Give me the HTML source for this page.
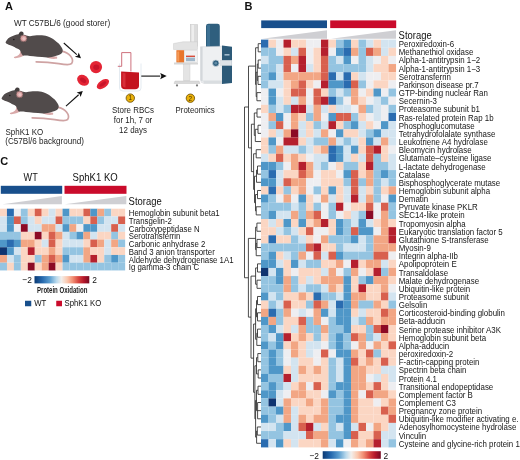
<!DOCTYPE html><html><head><meta charset="utf-8"><style>html,body{margin:0;padding:0;background:#fff;width:520px;height:460px;overflow:hidden}svg{display:block;filter:blur(0.45px)}</style></head><body>
<svg width="520" height="460" viewBox="0 0 520 460">
<defs><linearGradient id="cb" x1="0" x2="1" y1="0" y2="0"><stop offset="0" stop-color="#0b3a74"/><stop offset="0.14" stop-color="#2568ad"/><stop offset="0.28" stop-color="#5d9fd0"/><stop offset="0.4" stop-color="#b9d9ec"/><stop offset="0.49" stop-color="#f2efec"/><stop offset="0.6" stop-color="#fbc7ad"/><stop offset="0.7" stop-color="#f18d72"/><stop offset="0.8" stop-color="#d84740"/><stop offset="0.9" stop-color="#b5172b"/><stop offset="1" stop-color="#760a22"/></linearGradient></defs>
<rect width="520" height="460" fill="#fff"/>
<text x="0" y="0" transform="translate(5.10,9.80) scale(1.0,1.0)" font-family="Liberation Sans, sans-serif" font-size="11" fill="#111" font-weight="bold">A</text>
<text x="0" y="0" transform="translate(13.90,26.10) scale(1.0,1.1)" font-family="Liberation Sans, sans-serif" font-size="8.23" fill="#1e1e1e">WT C57BL/6 (good storer)</text>
<g transform="translate(0,0)"><path d="M61.5,51.2 C65,52 68.5,53.6 70.5,56 C72.5,58.5 73.2,61.5 71.5,63.7 C69.5,65.5 64,64.6 58.8,63.6 C52,62.5 44,61.8 36.2,61.8" fill="none" stroke="#cfa3a3" stroke-width="1.7" stroke-linecap="round"/><path d="M45.8,56.6 C47.5,58.6 52,59.2 56.5,58.8 C57.5,58.4 57.5,57.2 56.5,56.4 Z" fill="#d9a9a9"/><path d="M20.3,51.5 C20.2,54 18.5,55.8 14.5,56.8 C13.4,57.4 13.8,58.3 15.5,58.2 C19,58 22,57.2 23.6,55.6 C23.2,54 22.5,52.5 21.5,51 Z" fill="#d9a9a9"/><path d="M5.8,41.8 C7,39 9.5,37.2 11.5,36.5 C14,35.3 16.5,34.5 18.5,34.2 C22,33.8 26,35.8 30,36.2 C34,35.5 37,35.2 39.6,35.3 C43,35.4 45,35.7 47.3,36.25 C51,37.5 53,38.8 55,40.6 C58,43 60,44.5 60.8,46.3 C62,48 63,49.5 62.7,50.7 C62.5,52.5 61.8,53.4 60.8,54 C58,55.5 56,56 54,56.4 C51,57 49,57.4 47.3,57.4 C40,57 34,56.5 30,56 C27,55.5 24.5,55.5 23,55.7 C21.5,54 21,52.5 20,50.3 C19,49.5 18.5,49 17.7,48.8 C15,47.5 13.5,46.5 12.3,46 C9.5,45 7.5,44 6.2,43.4 C5.5,43 5.5,42.3 5.8,41.8 Z" fill="#514b4b"/><path d="M18.6,35 C18.6,33 19.6,31.6 21.3,31.4 C22.8,31.3 23.6,32.3 23.6,33.6 L23.2,35.2 Z" fill="#433e3e"/><circle cx="23.6" cy="38.4" r="3.4" fill="#d8a0a0" stroke="#6a5050" stroke-width="0.7"/><circle cx="23.9" cy="38.6" r="1.6" fill="#e9c1c1"/><circle cx="13.8" cy="39.5" r="0.75" fill="#1a1818"/></g>
<g transform="translate(-4,56)"><path d="M61.5,51.2 C65,52 68.5,53.6 70.5,56 C72.5,58.5 73.2,61.5 71.5,63.7 C69.5,65.5 64,64.6 58.8,63.6 C52,62.5 44,61.8 36.2,61.8" fill="none" stroke="#cfa3a3" stroke-width="1.7" stroke-linecap="round"/><path d="M45.8,56.6 C47.5,58.6 52,59.2 56.5,58.8 C57.5,58.4 57.5,57.2 56.5,56.4 Z" fill="#d9a9a9"/><path d="M20.3,51.5 C20.2,54 18.5,55.8 14.5,56.8 C13.4,57.4 13.8,58.3 15.5,58.2 C19,58 22,57.2 23.6,55.6 C23.2,54 22.5,52.5 21.5,51 Z" fill="#d9a9a9"/><path d="M5.8,41.8 C7,39 9.5,37.2 11.5,36.5 C14,35.3 16.5,34.5 18.5,34.2 C22,33.8 26,35.8 30,36.2 C34,35.5 37,35.2 39.6,35.3 C43,35.4 45,35.7 47.3,36.25 C51,37.5 53,38.8 55,40.6 C58,43 60,44.5 60.8,46.3 C62,48 63,49.5 62.7,50.7 C62.5,52.5 61.8,53.4 60.8,54 C58,55.5 56,56 54,56.4 C51,57 49,57.4 47.3,57.4 C40,57 34,56.5 30,56 C27,55.5 24.5,55.5 23,55.7 C21.5,54 21,52.5 20,50.3 C19,49.5 18.5,49 17.7,48.8 C15,47.5 13.5,46.5 12.3,46 C9.5,45 7.5,44 6.2,43.4 C5.5,43 5.5,42.3 5.8,41.8 Z" fill="#514b4b"/><path d="M18.6,35 C18.6,33 19.6,31.6 21.3,31.4 C22.8,31.3 23.6,32.3 23.6,33.6 L23.2,35.2 Z" fill="#433e3e"/><circle cx="23.6" cy="38.4" r="3.4" fill="#d8a0a0" stroke="#6a5050" stroke-width="0.7"/><circle cx="23.9" cy="38.6" r="1.6" fill="#e9c1c1"/><circle cx="13.8" cy="39.5" r="0.75" fill="#1a1818"/></g>
<text x="0" y="0" transform="translate(5.50,134.70) scale(1.0,1.1)" font-family="Liberation Sans, sans-serif" font-size="8" fill="#1e1e1e">SphK1 KO</text>
<text x="0" y="0" transform="translate(5.30,143.60) scale(1.0,1.1)" font-family="Liberation Sans, sans-serif" font-size="8.1" fill="#1e1e1e">(C57Bl/6 background)</text>
<line x1="63.8" y1="43" x2="76.82" y2="54.58" stroke="#111" stroke-width="1.1"/><path d="M81,58.3 L74.89,56.74 L77.71,55.38 L78.74,52.41 Z" fill="#111"/>
<line x1="66" y1="106.2" x2="78.65" y2="94.76" stroke="#111" stroke-width="1.1"/><path d="M82.8,91 L80.59,96.91 L79.54,93.95 L76.70,92.61 Z" fill="#111"/>
<circle cx="96" cy="67.1" r="6.1" fill="#e42535"/><ellipse cx="96.3" cy="67.3" rx="3" ry="2.7" fill="#c8142a"/>
<g transform="translate(83.1,80.3) rotate(35)"><ellipse rx="6.4" ry="5" fill="#e42535"/><ellipse rx="3.4" ry="2.2" fill="#c8142a"/></g>
<g transform="translate(102.9,84.1) rotate(-35)"><ellipse rx="7" ry="3.9" fill="#e42535"/><ellipse rx="4" ry="1.6" fill="#c8142a"/></g>
<path d="M119.5,63.5 L119.5,88 Q119.5,91 123,91 L138,91 Q141,91 141,88 L141,63.5" fill="none" stroke="#dde6ee" stroke-width="0.8"/>
<path d="M117.8,66.3 L121.7,66.3 L121.7,52.6 L130.9,52.6 L130.9,71.5" fill="none" stroke="#c8616e" stroke-width="0.9"/>
<path d="M121.1,71.5 L139,72.6 L139,85.5 Q139,89.3 135,89.3 L125,89.3 Q121.1,89.3 121.1,85.5 Z" fill="#c4141f"/>
<path d="M122.5,73 L125.5,73.2 L125.5,87.5 Q122.5,87 122.5,85 Z" fill="#e4424c" opacity="0.6"/>
<line x1="141.3" y1="76.1" x2="160.20" y2="76.10" stroke="#111" stroke-width="1.1"/><path d="M166.7,76.1 L160.20,79.30 L161.40,76.10 L160.20,72.90 Z" fill="#111"/>
<circle cx="130.3" cy="98.1" r="4.2" fill="#e9b10a" stroke="#6a4a00" stroke-width="0.8"/><text x="130.3" y="100.39999999999999" font-family="Liberation Sans, sans-serif" font-size="6.4" text-anchor="middle" fill="#4a3300">1</text>
<circle cx="190.4" cy="98.2" r="4.2" fill="#e9b10a" stroke="#6a4a00" stroke-width="0.8"/><text x="190.4" y="100.5" font-family="Liberation Sans, sans-serif" font-size="6.4" text-anchor="middle" fill="#4a3300">2</text>
<text x="0" y="0" transform="translate(133.00,113.10) scale(1.0,1.1)" font-family="Liberation Sans, sans-serif" font-size="7.97" fill="#1e1e1e" text-anchor="middle">Store RBCs</text>
<text x="0" y="0" transform="translate(133.00,122.90) scale(1.0,1.1)" font-family="Liberation Sans, sans-serif" font-size="7.97" fill="#1e1e1e" text-anchor="middle">for 1h, 7 or</text>
<text x="0" y="0" transform="translate(133.00,132.60) scale(1.0,1.1)" font-family="Liberation Sans, sans-serif" font-size="7.97" fill="#1e1e1e" text-anchor="middle">12 days</text>
<text x="0" y="0" transform="translate(175.60,112.80) scale(1.0,1.1)" font-family="Liberation Sans, sans-serif" font-size="7.84" fill="#1e1e1e">Proteomics</text>
<rect x="190.2" y="24.5" width="7.5" height="22" fill="#dcdcdc" stroke="#bfbfbf" stroke-width="0.4"/><rect x="191.5" y="25" width="2.5" height="21" fill="#eeeeee"/><path d="M173.5,43.5 L183,41.8 L197.5,41.8 L197.5,49.5 L173.5,49.5 Z" fill="#e3e3e3" stroke="#c4c4c4" stroke-width="0.4"/><rect x="176.4" y="50.2" width="7.8" height="12.5" fill="#e8762c"/><rect x="177.2" y="51.5" width="2" height="10" fill="#f49a56"/><rect x="184.2" y="50.2" width="13.5" height="12" fill="#f2f2f2" stroke="#cfcfcf" stroke-width="0.4"/><rect x="186" y="55.6" width="9" height="1.4" fill="#d84c3a"/><rect x="186" y="57.6" width="9" height="3.6" fill="#9fb6c9"/><rect x="174" y="62.5" width="24" height="2" fill="#d6d6d6"/><rect x="183.5" y="64.2" width="6.5" height="16.5" fill="#e4e4e4" stroke="#c8c8c8" stroke-width="0.4"/><path d="M175,81 L199,81 L200,83.5 L174,83.5 Z" fill="#dadada" stroke="#bdbdbd" stroke-width="0.4"/><circle cx="177" cy="85.4" r="1.1" fill="#7d7d7d"/><circle cx="197" cy="85.4" r="1.1" fill="#7d7d7d"/><path d="M206,26 Q206,23.8 208.5,23.8 L217.5,23.8 Q219.8,23.8 219.8,26 L219.8,47 L206,47 Z" fill="#2f5f7e"/><rect x="207" y="25" width="3" height="21" fill="#3d7193"/><path d="M200.5,46.8 L222.3,46.2 L222.3,83.5 L204,83.5 Q200.5,83 200.5,80 Z" fill="#eef0f2" stroke="#c9cdd1" stroke-width="0.4"/><path d="M200.5,46.8 L202.6,46.8 L202.6,81.5 Q201,81 200.5,80 Z" fill="#d3d7db"/><path d="M203,80.6 L222.3,80.6 L222.3,83.5 L204,83.5 Z" fill="#d9dde0"/><path d="M222,45.5 L232,46.8 L232,83 L222,84 Z" fill="#2d5a78"/><rect x="224.5" y="54" width="5" height="1.6" fill="#9fb9cc"/><rect x="220.5" y="60.2" width="11.4" height="5.4" fill="#dfe4e8" stroke="#c9cfd4" stroke-width="0.3"/><circle cx="215.8" cy="63.2" r="3.3" fill="#2f5f7e" stroke="#cfd8de" stroke-width="0.8"/><circle cx="215.8" cy="63.2" r="1.4" fill="#5f8aa5"/>
<text x="0" y="0" transform="translate(244.50,9.80) scale(1.0,1.0)" font-family="Liberation Sans, sans-serif" font-size="11" fill="#111" font-weight="bold">B</text>
<rect x="261.2" y="20.4" width="65.8" height="7.7" fill="#184f8c"/>
<rect x="330.2" y="20.4" width="66" height="7.7" fill="#ca0b2b"/>
<path d="M262,38.7 L327,30.2 L327,38.7 Z" fill="#cfcfd3"/>
<path d="M331,38.7 L396,30.2 L396,38.7 Z" fill="#cfcfd3"/>
<text x="0" y="0" transform="translate(398.60,38.80) scale(1.0,1.1)" font-family="Liberation Sans, sans-serif" font-size="9.45" fill="#111">Storage</text>
<rect x="261.00" y="39.60" width="7.55" height="8.21" fill="#2a6cb0"/>
<rect x="268.50" y="39.60" width="7.55" height="8.21" fill="#fbd6c3"/>
<rect x="276.00" y="39.60" width="7.55" height="8.21" fill="#eeeef1"/>
<rect x="283.50" y="39.60" width="7.55" height="8.21" fill="#b5202e"/>
<rect x="291.00" y="39.60" width="7.55" height="8.21" fill="#fbd6c3"/>
<rect x="298.50" y="39.60" width="7.55" height="8.21" fill="#fbd6c3"/>
<rect x="306.00" y="39.60" width="7.55" height="8.21" fill="#eeeef1"/>
<rect x="313.50" y="39.60" width="7.55" height="8.21" fill="#eeeef1"/>
<rect x="321.00" y="39.60" width="7.55" height="8.21" fill="#b5202e"/>
<rect x="328.50" y="39.60" width="7.55" height="8.21" fill="#fbd6c3"/>
<rect x="336.00" y="39.60" width="7.55" height="8.21" fill="#94c4e1"/>
<rect x="343.50" y="39.60" width="7.55" height="8.21" fill="#4f97c8"/>
<rect x="351.00" y="39.60" width="7.55" height="8.21" fill="#fbd6c3"/>
<rect x="358.50" y="39.60" width="7.55" height="8.21" fill="#94c4e1"/>
<rect x="366.00" y="39.60" width="7.55" height="8.21" fill="#d3e4f0"/>
<rect x="373.50" y="39.60" width="7.55" height="8.21" fill="#fbd6c3"/>
<rect x="381.00" y="39.60" width="7.55" height="8.21" fill="#d3e4f0"/>
<rect x="388.50" y="39.60" width="7.55" height="8.21" fill="#d3e4f0"/>
<rect x="261.00" y="47.76" width="7.55" height="8.21" fill="#94c4e1"/>
<rect x="268.50" y="47.76" width="7.55" height="8.21" fill="#94c4e1"/>
<rect x="276.00" y="47.76" width="7.55" height="8.21" fill="#eeeef1"/>
<rect x="283.50" y="47.76" width="7.55" height="8.21" fill="#fbd6c3"/>
<rect x="291.00" y="47.76" width="7.55" height="8.21" fill="#d3e4f0"/>
<rect x="298.50" y="47.76" width="7.55" height="8.21" fill="#d8604e"/>
<rect x="306.00" y="47.76" width="7.55" height="8.21" fill="#eeeef1"/>
<rect x="313.50" y="47.76" width="7.55" height="8.21" fill="#fbd6c3"/>
<rect x="321.00" y="47.76" width="7.55" height="8.21" fill="#b5202e"/>
<rect x="328.50" y="47.76" width="7.55" height="8.21" fill="#eeeef1"/>
<rect x="336.00" y="47.76" width="7.55" height="8.21" fill="#4f97c8"/>
<rect x="343.50" y="47.76" width="7.55" height="8.21" fill="#2a6cb0"/>
<rect x="351.00" y="47.76" width="7.55" height="8.21" fill="#f2a684"/>
<rect x="358.50" y="47.76" width="7.55" height="8.21" fill="#94c4e1"/>
<rect x="366.00" y="47.76" width="7.55" height="8.21" fill="#d8604e"/>
<rect x="373.50" y="47.76" width="7.55" height="8.21" fill="#f2a684"/>
<rect x="381.00" y="47.76" width="7.55" height="8.21" fill="#d3e4f0"/>
<rect x="388.50" y="47.76" width="7.55" height="8.21" fill="#fbd6c3"/>
<rect x="261.00" y="55.91" width="7.55" height="8.21" fill="#d3e4f0"/>
<rect x="268.50" y="55.91" width="7.55" height="8.21" fill="#94c4e1"/>
<rect x="276.00" y="55.91" width="7.55" height="8.21" fill="#94c4e1"/>
<rect x="283.50" y="55.91" width="7.55" height="8.21" fill="#d8604e"/>
<rect x="291.00" y="55.91" width="7.55" height="8.21" fill="#f2a684"/>
<rect x="298.50" y="55.91" width="7.55" height="8.21" fill="#b5202e"/>
<rect x="306.00" y="55.91" width="7.55" height="8.21" fill="#eeeef1"/>
<rect x="313.50" y="55.91" width="7.55" height="8.21" fill="#fbd6c3"/>
<rect x="321.00" y="55.91" width="7.55" height="8.21" fill="#d8604e"/>
<rect x="328.50" y="55.91" width="7.55" height="8.21" fill="#94c4e1"/>
<rect x="336.00" y="55.91" width="7.55" height="8.21" fill="#d3e4f0"/>
<rect x="343.50" y="55.91" width="7.55" height="8.21" fill="#4f97c8"/>
<rect x="351.00" y="55.91" width="7.55" height="8.21" fill="#eeeef1"/>
<rect x="358.50" y="55.91" width="7.55" height="8.21" fill="#94c4e1"/>
<rect x="366.00" y="55.91" width="7.55" height="8.21" fill="#d3e4f0"/>
<rect x="373.50" y="55.91" width="7.55" height="8.21" fill="#eeeef1"/>
<rect x="381.00" y="55.91" width="7.55" height="8.21" fill="#fbd6c3"/>
<rect x="388.50" y="55.91" width="7.55" height="8.21" fill="#eeeef1"/>
<rect x="261.00" y="64.06" width="7.55" height="8.21" fill="#94c4e1"/>
<rect x="268.50" y="64.06" width="7.55" height="8.21" fill="#94c4e1"/>
<rect x="276.00" y="64.06" width="7.55" height="8.21" fill="#d3e4f0"/>
<rect x="283.50" y="64.06" width="7.55" height="8.21" fill="#d8604e"/>
<rect x="291.00" y="64.06" width="7.55" height="8.21" fill="#eeeef1"/>
<rect x="298.50" y="64.06" width="7.55" height="8.21" fill="#b5202e"/>
<rect x="306.00" y="64.06" width="7.55" height="8.21" fill="#d3e4f0"/>
<rect x="313.50" y="64.06" width="7.55" height="8.21" fill="#fbd6c3"/>
<rect x="321.00" y="64.06" width="7.55" height="8.21" fill="#d8604e"/>
<rect x="328.50" y="64.06" width="7.55" height="8.21" fill="#94c4e1"/>
<rect x="336.00" y="64.06" width="7.55" height="8.21" fill="#94c4e1"/>
<rect x="343.50" y="64.06" width="7.55" height="8.21" fill="#94c4e1"/>
<rect x="351.00" y="64.06" width="7.55" height="8.21" fill="#94c4e1"/>
<rect x="358.50" y="64.06" width="7.55" height="8.21" fill="#94c4e1"/>
<rect x="366.00" y="64.06" width="7.55" height="8.21" fill="#d3e4f0"/>
<rect x="373.50" y="64.06" width="7.55" height="8.21" fill="#fbd6c3"/>
<rect x="381.00" y="64.06" width="7.55" height="8.21" fill="#fbd6c3"/>
<rect x="388.50" y="64.06" width="7.55" height="8.21" fill="#f2a684"/>
<rect x="261.00" y="72.22" width="7.55" height="8.21" fill="#94c4e1"/>
<rect x="268.50" y="72.22" width="7.55" height="8.21" fill="#4f97c8"/>
<rect x="276.00" y="72.22" width="7.55" height="8.21" fill="#d3e4f0"/>
<rect x="283.50" y="72.22" width="7.55" height="8.21" fill="#f2a684"/>
<rect x="291.00" y="72.22" width="7.55" height="8.21" fill="#f2a684"/>
<rect x="298.50" y="72.22" width="7.55" height="8.21" fill="#f2a684"/>
<rect x="306.00" y="72.22" width="7.55" height="8.21" fill="#f2a684"/>
<rect x="313.50" y="72.22" width="7.55" height="8.21" fill="#f2a684"/>
<rect x="321.00" y="72.22" width="7.55" height="8.21" fill="#d8604e"/>
<rect x="328.50" y="72.22" width="7.55" height="8.21" fill="#2a6cb0"/>
<rect x="336.00" y="72.22" width="7.55" height="8.21" fill="#d3e4f0"/>
<rect x="343.50" y="72.22" width="7.55" height="8.21" fill="#2a6cb0"/>
<rect x="351.00" y="72.22" width="7.55" height="8.21" fill="#fbd6c3"/>
<rect x="358.50" y="72.22" width="7.55" height="8.21" fill="#d3e4f0"/>
<rect x="366.00" y="72.22" width="7.55" height="8.21" fill="#eeeef1"/>
<rect x="373.50" y="72.22" width="7.55" height="8.21" fill="#eeeef1"/>
<rect x="381.00" y="72.22" width="7.55" height="8.21" fill="#fbd6c3"/>
<rect x="388.50" y="72.22" width="7.55" height="8.21" fill="#fbd6c3"/>
<rect x="261.00" y="80.38" width="7.55" height="8.21" fill="#94c4e1"/>
<rect x="268.50" y="80.38" width="7.55" height="8.21" fill="#d3e4f0"/>
<rect x="276.00" y="80.38" width="7.55" height="8.21" fill="#d3e4f0"/>
<rect x="283.50" y="80.38" width="7.55" height="8.21" fill="#fbd6c3"/>
<rect x="291.00" y="80.38" width="7.55" height="8.21" fill="#f2a684"/>
<rect x="298.50" y="80.38" width="7.55" height="8.21" fill="#d8604e"/>
<rect x="306.00" y="80.38" width="7.55" height="8.21" fill="#fbd6c3"/>
<rect x="313.50" y="80.38" width="7.55" height="8.21" fill="#eeeef1"/>
<rect x="321.00" y="80.38" width="7.55" height="8.21" fill="#b5202e"/>
<rect x="328.50" y="80.38" width="7.55" height="8.21" fill="#4f97c8"/>
<rect x="336.00" y="80.38" width="7.55" height="8.21" fill="#4f97c8"/>
<rect x="343.50" y="80.38" width="7.55" height="8.21" fill="#2a6cb0"/>
<rect x="351.00" y="80.38" width="7.55" height="8.21" fill="#d8604e"/>
<rect x="358.50" y="80.38" width="7.55" height="8.21" fill="#94c4e1"/>
<rect x="366.00" y="80.38" width="7.55" height="8.21" fill="#eeeef1"/>
<rect x="373.50" y="80.38" width="7.55" height="8.21" fill="#fbd6c3"/>
<rect x="381.00" y="80.38" width="7.55" height="8.21" fill="#fbd6c3"/>
<rect x="388.50" y="80.38" width="7.55" height="8.21" fill="#eeeef1"/>
<rect x="261.00" y="88.53" width="7.55" height="8.21" fill="#eeeef1"/>
<rect x="268.50" y="88.53" width="7.55" height="8.21" fill="#4f97c8"/>
<rect x="276.00" y="88.53" width="7.55" height="8.21" fill="#eeeef1"/>
<rect x="283.50" y="88.53" width="7.55" height="8.21" fill="#fbd6c3"/>
<rect x="291.00" y="88.53" width="7.55" height="8.21" fill="#d8604e"/>
<rect x="298.50" y="88.53" width="7.55" height="8.21" fill="#d8604e"/>
<rect x="306.00" y="88.53" width="7.55" height="8.21" fill="#eeeef1"/>
<rect x="313.50" y="88.53" width="7.55" height="8.21" fill="#d8604e"/>
<rect x="321.00" y="88.53" width="7.55" height="8.21" fill="#fbd6c3"/>
<rect x="328.50" y="88.53" width="7.55" height="8.21" fill="#94c4e1"/>
<rect x="336.00" y="88.53" width="7.55" height="8.21" fill="#d3e4f0"/>
<rect x="343.50" y="88.53" width="7.55" height="8.21" fill="#94c4e1"/>
<rect x="351.00" y="88.53" width="7.55" height="8.21" fill="#f2a684"/>
<rect x="358.50" y="88.53" width="7.55" height="8.21" fill="#eeeef1"/>
<rect x="366.00" y="88.53" width="7.55" height="8.21" fill="#fbd6c3"/>
<rect x="373.50" y="88.53" width="7.55" height="8.21" fill="#4f97c8"/>
<rect x="381.00" y="88.53" width="7.55" height="8.21" fill="#eeeef1"/>
<rect x="388.50" y="88.53" width="7.55" height="8.21" fill="#94c4e1"/>
<rect x="261.00" y="96.69" width="7.55" height="8.21" fill="#eeeef1"/>
<rect x="268.50" y="96.69" width="7.55" height="8.21" fill="#4f97c8"/>
<rect x="276.00" y="96.69" width="7.55" height="8.21" fill="#d3e4f0"/>
<rect x="283.50" y="96.69" width="7.55" height="8.21" fill="#fbd6c3"/>
<rect x="291.00" y="96.69" width="7.55" height="8.21" fill="#d3e4f0"/>
<rect x="298.50" y="96.69" width="7.55" height="8.21" fill="#f2a684"/>
<rect x="306.00" y="96.69" width="7.55" height="8.21" fill="#eeeef1"/>
<rect x="313.50" y="96.69" width="7.55" height="8.21" fill="#d8604e"/>
<rect x="321.00" y="96.69" width="7.55" height="8.21" fill="#b5202e"/>
<rect x="328.50" y="96.69" width="7.55" height="8.21" fill="#2a6cb0"/>
<rect x="336.00" y="96.69" width="7.55" height="8.21" fill="#94c4e1"/>
<rect x="343.50" y="96.69" width="7.55" height="8.21" fill="#eeeef1"/>
<rect x="351.00" y="96.69" width="7.55" height="8.21" fill="#f2a684"/>
<rect x="358.50" y="96.69" width="7.55" height="8.21" fill="#fbd6c3"/>
<rect x="366.00" y="96.69" width="7.55" height="8.21" fill="#eeeef1"/>
<rect x="373.50" y="96.69" width="7.55" height="8.21" fill="#d3e4f0"/>
<rect x="381.00" y="96.69" width="7.55" height="8.21" fill="#94c4e1"/>
<rect x="388.50" y="96.69" width="7.55" height="8.21" fill="#eeeef1"/>
<rect x="261.00" y="104.84" width="7.55" height="8.21" fill="#fbd6c3"/>
<rect x="268.50" y="104.84" width="7.55" height="8.21" fill="#94c4e1"/>
<rect x="276.00" y="104.84" width="7.55" height="8.21" fill="#d3e4f0"/>
<rect x="283.50" y="104.84" width="7.55" height="8.21" fill="#94c4e1"/>
<rect x="291.00" y="104.84" width="7.55" height="8.21" fill="#b5202e"/>
<rect x="298.50" y="104.84" width="7.55" height="8.21" fill="#b5202e"/>
<rect x="306.00" y="104.84" width="7.55" height="8.21" fill="#d3e4f0"/>
<rect x="313.50" y="104.84" width="7.55" height="8.21" fill="#f2a684"/>
<rect x="321.00" y="104.84" width="7.55" height="8.21" fill="#d3e4f0"/>
<rect x="328.50" y="104.84" width="7.55" height="8.21" fill="#fbd6c3"/>
<rect x="336.00" y="104.84" width="7.55" height="8.21" fill="#d3e4f0"/>
<rect x="343.50" y="104.84" width="7.55" height="8.21" fill="#d3e4f0"/>
<rect x="351.00" y="104.84" width="7.55" height="8.21" fill="#eeeef1"/>
<rect x="358.50" y="104.84" width="7.55" height="8.21" fill="#f2a684"/>
<rect x="366.00" y="104.84" width="7.55" height="8.21" fill="#94c4e1"/>
<rect x="373.50" y="104.84" width="7.55" height="8.21" fill="#d3e4f0"/>
<rect x="381.00" y="104.84" width="7.55" height="8.21" fill="#eeeef1"/>
<rect x="388.50" y="104.84" width="7.55" height="8.21" fill="#94c4e1"/>
<rect x="261.00" y="113.00" width="7.55" height="8.21" fill="#eeeef1"/>
<rect x="268.50" y="113.00" width="7.55" height="8.21" fill="#f2a684"/>
<rect x="276.00" y="113.00" width="7.55" height="8.21" fill="#4f97c8"/>
<rect x="283.50" y="113.00" width="7.55" height="8.21" fill="#eeeef1"/>
<rect x="291.00" y="113.00" width="7.55" height="8.21" fill="#f2a684"/>
<rect x="298.50" y="113.00" width="7.55" height="8.21" fill="#fbd6c3"/>
<rect x="306.00" y="113.00" width="7.55" height="8.21" fill="#94c4e1"/>
<rect x="313.50" y="113.00" width="7.55" height="8.21" fill="#f2a684"/>
<rect x="321.00" y="113.00" width="7.55" height="8.21" fill="#eeeef1"/>
<rect x="328.50" y="113.00" width="7.55" height="8.21" fill="#4f97c8"/>
<rect x="336.00" y="113.00" width="7.55" height="8.21" fill="#d8604e"/>
<rect x="343.50" y="113.00" width="7.55" height="8.21" fill="#d8604e"/>
<rect x="351.00" y="113.00" width="7.55" height="8.21" fill="#94c4e1"/>
<rect x="358.50" y="113.00" width="7.55" height="8.21" fill="#fbd6c3"/>
<rect x="366.00" y="113.00" width="7.55" height="8.21" fill="#eeeef1"/>
<rect x="373.50" y="113.00" width="7.55" height="8.21" fill="#d3e4f0"/>
<rect x="381.00" y="113.00" width="7.55" height="8.21" fill="#eeeef1"/>
<rect x="388.50" y="113.00" width="7.55" height="8.21" fill="#2a6cb0"/>
<rect x="261.00" y="121.15" width="7.55" height="8.21" fill="#eeeef1"/>
<rect x="268.50" y="121.15" width="7.55" height="8.21" fill="#94c4e1"/>
<rect x="276.00" y="121.15" width="7.55" height="8.21" fill="#d8604e"/>
<rect x="283.50" y="121.15" width="7.55" height="8.21" fill="#eeeef1"/>
<rect x="291.00" y="121.15" width="7.55" height="8.21" fill="#f2a684"/>
<rect x="298.50" y="121.15" width="7.55" height="8.21" fill="#d3e4f0"/>
<rect x="306.00" y="121.15" width="7.55" height="8.21" fill="#fbd6c3"/>
<rect x="313.50" y="121.15" width="7.55" height="8.21" fill="#94c4e1"/>
<rect x="321.00" y="121.15" width="7.55" height="8.21" fill="#d3e4f0"/>
<rect x="328.50" y="121.15" width="7.55" height="8.21" fill="#b5202e"/>
<rect x="336.00" y="121.15" width="7.55" height="8.21" fill="#fbd6c3"/>
<rect x="343.50" y="121.15" width="7.55" height="8.21" fill="#94c4e1"/>
<rect x="351.00" y="121.15" width="7.55" height="8.21" fill="#4f97c8"/>
<rect x="358.50" y="121.15" width="7.55" height="8.21" fill="#d3e4f0"/>
<rect x="366.00" y="121.15" width="7.55" height="8.21" fill="#fbd6c3"/>
<rect x="373.50" y="121.15" width="7.55" height="8.21" fill="#eeeef1"/>
<rect x="381.00" y="121.15" width="7.55" height="8.21" fill="#4f97c8"/>
<rect x="388.50" y="121.15" width="7.55" height="8.21" fill="#d3e4f0"/>
<rect x="261.00" y="129.31" width="7.55" height="8.21" fill="#eeeef1"/>
<rect x="268.50" y="129.31" width="7.55" height="8.21" fill="#fbd6c3"/>
<rect x="276.00" y="129.31" width="7.55" height="8.21" fill="#d3e4f0"/>
<rect x="283.50" y="129.31" width="7.55" height="8.21" fill="#f2a684"/>
<rect x="291.00" y="129.31" width="7.55" height="8.21" fill="#8c0a25"/>
<rect x="298.50" y="129.31" width="7.55" height="8.21" fill="#d3e4f0"/>
<rect x="306.00" y="129.31" width="7.55" height="8.21" fill="#fbd6c3"/>
<rect x="313.50" y="129.31" width="7.55" height="8.21" fill="#d3e4f0"/>
<rect x="321.00" y="129.31" width="7.55" height="8.21" fill="#f2a684"/>
<rect x="328.50" y="129.31" width="7.55" height="8.21" fill="#eeeef1"/>
<rect x="336.00" y="129.31" width="7.55" height="8.21" fill="#4f97c8"/>
<rect x="343.50" y="129.31" width="7.55" height="8.21" fill="#fbd6c3"/>
<rect x="351.00" y="129.31" width="7.55" height="8.21" fill="#fbd6c3"/>
<rect x="358.50" y="129.31" width="7.55" height="8.21" fill="#d3e4f0"/>
<rect x="366.00" y="129.31" width="7.55" height="8.21" fill="#94c4e1"/>
<rect x="373.50" y="129.31" width="7.55" height="8.21" fill="#4f97c8"/>
<rect x="381.00" y="129.31" width="7.55" height="8.21" fill="#d3e4f0"/>
<rect x="388.50" y="129.31" width="7.55" height="8.21" fill="#d3e4f0"/>
<rect x="261.00" y="137.46" width="7.55" height="8.21" fill="#fbd6c3"/>
<rect x="268.50" y="137.46" width="7.55" height="8.21" fill="#4f97c8"/>
<rect x="276.00" y="137.46" width="7.55" height="8.21" fill="#eeeef1"/>
<rect x="283.50" y="137.46" width="7.55" height="8.21" fill="#b5202e"/>
<rect x="291.00" y="137.46" width="7.55" height="8.21" fill="#b5202e"/>
<rect x="298.50" y="137.46" width="7.55" height="8.21" fill="#fbd6c3"/>
<rect x="306.00" y="137.46" width="7.55" height="8.21" fill="#d3e4f0"/>
<rect x="313.50" y="137.46" width="7.55" height="8.21" fill="#94c4e1"/>
<rect x="321.00" y="137.46" width="7.55" height="8.21" fill="#94c4e1"/>
<rect x="328.50" y="137.46" width="7.55" height="8.21" fill="#f2a684"/>
<rect x="336.00" y="137.46" width="7.55" height="8.21" fill="#d3e4f0"/>
<rect x="343.50" y="137.46" width="7.55" height="8.21" fill="#94c4e1"/>
<rect x="351.00" y="137.46" width="7.55" height="8.21" fill="#d3e4f0"/>
<rect x="358.50" y="137.46" width="7.55" height="8.21" fill="#fbd6c3"/>
<rect x="366.00" y="137.46" width="7.55" height="8.21" fill="#4f97c8"/>
<rect x="373.50" y="137.46" width="7.55" height="8.21" fill="#d3e4f0"/>
<rect x="381.00" y="137.46" width="7.55" height="8.21" fill="#f2a684"/>
<rect x="388.50" y="137.46" width="7.55" height="8.21" fill="#d3e4f0"/>
<rect x="261.00" y="145.61" width="7.55" height="8.21" fill="#fbd6c3"/>
<rect x="268.50" y="145.61" width="7.55" height="8.21" fill="#94c4e1"/>
<rect x="276.00" y="145.61" width="7.55" height="8.21" fill="#f2a684"/>
<rect x="283.50" y="145.61" width="7.55" height="8.21" fill="#d3e4f0"/>
<rect x="291.00" y="145.61" width="7.55" height="8.21" fill="#d3e4f0"/>
<rect x="298.50" y="145.61" width="7.55" height="8.21" fill="#94c4e1"/>
<rect x="306.00" y="145.61" width="7.55" height="8.21" fill="#d3e4f0"/>
<rect x="313.50" y="145.61" width="7.55" height="8.21" fill="#fbd6c3"/>
<rect x="321.00" y="145.61" width="7.55" height="8.21" fill="#f2a684"/>
<rect x="328.50" y="145.61" width="7.55" height="8.21" fill="#2a6cb0"/>
<rect x="336.00" y="145.61" width="7.55" height="8.21" fill="#4f97c8"/>
<rect x="343.50" y="145.61" width="7.55" height="8.21" fill="#d3e4f0"/>
<rect x="351.00" y="145.61" width="7.55" height="8.21" fill="#4f97c8"/>
<rect x="358.50" y="145.61" width="7.55" height="8.21" fill="#fbd6c3"/>
<rect x="366.00" y="145.61" width="7.55" height="8.21" fill="#d8604e"/>
<rect x="373.50" y="145.61" width="7.55" height="8.21" fill="#b5202e"/>
<rect x="381.00" y="145.61" width="7.55" height="8.21" fill="#fbd6c3"/>
<rect x="388.50" y="145.61" width="7.55" height="8.21" fill="#eeeef1"/>
<rect x="261.00" y="153.77" width="7.55" height="8.21" fill="#d3e4f0"/>
<rect x="268.50" y="153.77" width="7.55" height="8.21" fill="#fbd6c3"/>
<rect x="276.00" y="153.77" width="7.55" height="8.21" fill="#d8604e"/>
<rect x="283.50" y="153.77" width="7.55" height="8.21" fill="#fbd6c3"/>
<rect x="291.00" y="153.77" width="7.55" height="8.21" fill="#f2a684"/>
<rect x="298.50" y="153.77" width="7.55" height="8.21" fill="#fbd6c3"/>
<rect x="306.00" y="153.77" width="7.55" height="8.21" fill="#eeeef1"/>
<rect x="313.50" y="153.77" width="7.55" height="8.21" fill="#d3e4f0"/>
<rect x="321.00" y="153.77" width="7.55" height="8.21" fill="#d3e4f0"/>
<rect x="328.50" y="153.77" width="7.55" height="8.21" fill="#2a6cb0"/>
<rect x="336.00" y="153.77" width="7.55" height="8.21" fill="#4f97c8"/>
<rect x="343.50" y="153.77" width="7.55" height="8.21" fill="#d3e4f0"/>
<rect x="351.00" y="153.77" width="7.55" height="8.21" fill="#fbd6c3"/>
<rect x="358.50" y="153.77" width="7.55" height="8.21" fill="#d3e4f0"/>
<rect x="366.00" y="153.77" width="7.55" height="8.21" fill="#d8604e"/>
<rect x="373.50" y="153.77" width="7.55" height="8.21" fill="#94c4e1"/>
<rect x="381.00" y="153.77" width="7.55" height="8.21" fill="#fbd6c3"/>
<rect x="388.50" y="153.77" width="7.55" height="8.21" fill="#d3e4f0"/>
<rect x="261.00" y="161.92" width="7.55" height="8.21" fill="#4f97c8"/>
<rect x="268.50" y="161.92" width="7.55" height="8.21" fill="#4f97c8"/>
<rect x="276.00" y="161.92" width="7.55" height="8.21" fill="#94c4e1"/>
<rect x="283.50" y="161.92" width="7.55" height="8.21" fill="#eeeef1"/>
<rect x="291.00" y="161.92" width="7.55" height="8.21" fill="#f2a684"/>
<rect x="298.50" y="161.92" width="7.55" height="8.21" fill="#b5202e"/>
<rect x="306.00" y="161.92" width="7.55" height="8.21" fill="#f2a684"/>
<rect x="313.50" y="161.92" width="7.55" height="8.21" fill="#d3e4f0"/>
<rect x="321.00" y="161.92" width="7.55" height="8.21" fill="#94c4e1"/>
<rect x="328.50" y="161.92" width="7.55" height="8.21" fill="#eeeef1"/>
<rect x="336.00" y="161.92" width="7.55" height="8.21" fill="#fbd6c3"/>
<rect x="343.50" y="161.92" width="7.55" height="8.21" fill="#94c4e1"/>
<rect x="351.00" y="161.92" width="7.55" height="8.21" fill="#94c4e1"/>
<rect x="358.50" y="161.92" width="7.55" height="8.21" fill="#fbd6c3"/>
<rect x="366.00" y="161.92" width="7.55" height="8.21" fill="#b5202e"/>
<rect x="373.50" y="161.92" width="7.55" height="8.21" fill="#94c4e1"/>
<rect x="381.00" y="161.92" width="7.55" height="8.21" fill="#94c4e1"/>
<rect x="388.50" y="161.92" width="7.55" height="8.21" fill="#d3e4f0"/>
<rect x="261.00" y="170.08" width="7.55" height="8.21" fill="#94c4e1"/>
<rect x="268.50" y="170.08" width="7.55" height="8.21" fill="#2a6cb0"/>
<rect x="276.00" y="170.08" width="7.55" height="8.21" fill="#d3e4f0"/>
<rect x="283.50" y="170.08" width="7.55" height="8.21" fill="#fbd6c3"/>
<rect x="291.00" y="170.08" width="7.55" height="8.21" fill="#fbd6c3"/>
<rect x="298.50" y="170.08" width="7.55" height="8.21" fill="#d8604e"/>
<rect x="306.00" y="170.08" width="7.55" height="8.21" fill="#f2a684"/>
<rect x="313.50" y="170.08" width="7.55" height="8.21" fill="#eeeef1"/>
<rect x="321.00" y="170.08" width="7.55" height="8.21" fill="#fbd6c3"/>
<rect x="328.50" y="170.08" width="7.55" height="8.21" fill="#fbd6c3"/>
<rect x="336.00" y="170.08" width="7.55" height="8.21" fill="#eeeef1"/>
<rect x="343.50" y="170.08" width="7.55" height="8.21" fill="#4f97c8"/>
<rect x="351.00" y="170.08" width="7.55" height="8.21" fill="#d8604e"/>
<rect x="358.50" y="170.08" width="7.55" height="8.21" fill="#fbd6c3"/>
<rect x="366.00" y="170.08" width="7.55" height="8.21" fill="#f2a684"/>
<rect x="373.50" y="170.08" width="7.55" height="8.21" fill="#94c4e1"/>
<rect x="381.00" y="170.08" width="7.55" height="8.21" fill="#4f97c8"/>
<rect x="388.50" y="170.08" width="7.55" height="8.21" fill="#94c4e1"/>
<rect x="261.00" y="178.23" width="7.55" height="8.21" fill="#4f97c8"/>
<rect x="268.50" y="178.23" width="7.55" height="8.21" fill="#4f97c8"/>
<rect x="276.00" y="178.23" width="7.55" height="8.21" fill="#d3e4f0"/>
<rect x="283.50" y="178.23" width="7.55" height="8.21" fill="#d8604e"/>
<rect x="291.00" y="178.23" width="7.55" height="8.21" fill="#f2a684"/>
<rect x="298.50" y="178.23" width="7.55" height="8.21" fill="#f2a684"/>
<rect x="306.00" y="178.23" width="7.55" height="8.21" fill="#eeeef1"/>
<rect x="313.50" y="178.23" width="7.55" height="8.21" fill="#eeeef1"/>
<rect x="321.00" y="178.23" width="7.55" height="8.21" fill="#fbd6c3"/>
<rect x="328.50" y="178.23" width="7.55" height="8.21" fill="#fbd6c3"/>
<rect x="336.00" y="178.23" width="7.55" height="8.21" fill="#fbd6c3"/>
<rect x="343.50" y="178.23" width="7.55" height="8.21" fill="#94c4e1"/>
<rect x="351.00" y="178.23" width="7.55" height="8.21" fill="#d8604e"/>
<rect x="358.50" y="178.23" width="7.55" height="8.21" fill="#94c4e1"/>
<rect x="366.00" y="178.23" width="7.55" height="8.21" fill="#f2a684"/>
<rect x="373.50" y="178.23" width="7.55" height="8.21" fill="#94c4e1"/>
<rect x="381.00" y="178.23" width="7.55" height="8.21" fill="#d3e4f0"/>
<rect x="388.50" y="178.23" width="7.55" height="8.21" fill="#94c4e1"/>
<rect x="261.00" y="186.39" width="7.55" height="8.21" fill="#fbd6c3"/>
<rect x="268.50" y="186.39" width="7.55" height="8.21" fill="#2a6cb0"/>
<rect x="276.00" y="186.39" width="7.55" height="8.21" fill="#fbd6c3"/>
<rect x="283.50" y="186.39" width="7.55" height="8.21" fill="#94c4e1"/>
<rect x="291.00" y="186.39" width="7.55" height="8.21" fill="#fbd6c3"/>
<rect x="298.50" y="186.39" width="7.55" height="8.21" fill="#f2a684"/>
<rect x="306.00" y="186.39" width="7.55" height="8.21" fill="#eeeef1"/>
<rect x="313.50" y="186.39" width="7.55" height="8.21" fill="#94c4e1"/>
<rect x="321.00" y="186.39" width="7.55" height="8.21" fill="#fbd6c3"/>
<rect x="328.50" y="186.39" width="7.55" height="8.21" fill="#4f97c8"/>
<rect x="336.00" y="186.39" width="7.55" height="8.21" fill="#fbd6c3"/>
<rect x="343.50" y="186.39" width="7.55" height="8.21" fill="#d3e4f0"/>
<rect x="351.00" y="186.39" width="7.55" height="8.21" fill="#d8604e"/>
<rect x="358.50" y="186.39" width="7.55" height="8.21" fill="#d3e4f0"/>
<rect x="366.00" y="186.39" width="7.55" height="8.21" fill="#fbd6c3"/>
<rect x="373.50" y="186.39" width="7.55" height="8.21" fill="#94c4e1"/>
<rect x="381.00" y="186.39" width="7.55" height="8.21" fill="#fbd6c3"/>
<rect x="388.50" y="186.39" width="7.55" height="8.21" fill="#f2a684"/>
<rect x="261.00" y="194.54" width="7.55" height="8.21" fill="#4f97c8"/>
<rect x="268.50" y="194.54" width="7.55" height="8.21" fill="#94c4e1"/>
<rect x="276.00" y="194.54" width="7.55" height="8.21" fill="#eeeef1"/>
<rect x="283.50" y="194.54" width="7.55" height="8.21" fill="#f2a684"/>
<rect x="291.00" y="194.54" width="7.55" height="8.21" fill="#eeeef1"/>
<rect x="298.50" y="194.54" width="7.55" height="8.21" fill="#4f97c8"/>
<rect x="306.00" y="194.54" width="7.55" height="8.21" fill="#fbd6c3"/>
<rect x="313.50" y="194.54" width="7.55" height="8.21" fill="#eeeef1"/>
<rect x="321.00" y="194.54" width="7.55" height="8.21" fill="#f2a684"/>
<rect x="328.50" y="194.54" width="7.55" height="8.21" fill="#d3e4f0"/>
<rect x="336.00" y="194.54" width="7.55" height="8.21" fill="#fbd6c3"/>
<rect x="343.50" y="194.54" width="7.55" height="8.21" fill="#d3e4f0"/>
<rect x="351.00" y="194.54" width="7.55" height="8.21" fill="#b5202e"/>
<rect x="358.50" y="194.54" width="7.55" height="8.21" fill="#d3e4f0"/>
<rect x="366.00" y="194.54" width="7.55" height="8.21" fill="#f2a684"/>
<rect x="373.50" y="194.54" width="7.55" height="8.21" fill="#94c4e1"/>
<rect x="381.00" y="194.54" width="7.55" height="8.21" fill="#eeeef1"/>
<rect x="388.50" y="194.54" width="7.55" height="8.21" fill="#4f97c8"/>
<rect x="261.00" y="202.70" width="7.55" height="8.21" fill="#94c4e1"/>
<rect x="268.50" y="202.70" width="7.55" height="8.21" fill="#94c4e1"/>
<rect x="276.00" y="202.70" width="7.55" height="8.21" fill="#94c4e1"/>
<rect x="283.50" y="202.70" width="7.55" height="8.21" fill="#94c4e1"/>
<rect x="291.00" y="202.70" width="7.55" height="8.21" fill="#d3e4f0"/>
<rect x="298.50" y="202.70" width="7.55" height="8.21" fill="#94c4e1"/>
<rect x="306.00" y="202.70" width="7.55" height="8.21" fill="#fbd6c3"/>
<rect x="313.50" y="202.70" width="7.55" height="8.21" fill="#94c4e1"/>
<rect x="321.00" y="202.70" width="7.55" height="8.21" fill="#eeeef1"/>
<rect x="328.50" y="202.70" width="7.55" height="8.21" fill="#94c4e1"/>
<rect x="336.00" y="202.70" width="7.55" height="8.21" fill="#b5202e"/>
<rect x="343.50" y="202.70" width="7.55" height="8.21" fill="#eeeef1"/>
<rect x="351.00" y="202.70" width="7.55" height="8.21" fill="#fbd6c3"/>
<rect x="358.50" y="202.70" width="7.55" height="8.21" fill="#fbd6c3"/>
<rect x="366.00" y="202.70" width="7.55" height="8.21" fill="#d8604e"/>
<rect x="373.50" y="202.70" width="7.55" height="8.21" fill="#eeeef1"/>
<rect x="381.00" y="202.70" width="7.55" height="8.21" fill="#d8604e"/>
<rect x="388.50" y="202.70" width="7.55" height="8.21" fill="#94c4e1"/>
<rect x="261.00" y="210.85" width="7.55" height="8.21" fill="#94c4e1"/>
<rect x="268.50" y="210.85" width="7.55" height="8.21" fill="#4f97c8"/>
<rect x="276.00" y="210.85" width="7.55" height="8.21" fill="#d3e4f0"/>
<rect x="283.50" y="210.85" width="7.55" height="8.21" fill="#d3e4f0"/>
<rect x="291.00" y="210.85" width="7.55" height="8.21" fill="#f2a684"/>
<rect x="298.50" y="210.85" width="7.55" height="8.21" fill="#94c4e1"/>
<rect x="306.00" y="210.85" width="7.55" height="8.21" fill="#f2a684"/>
<rect x="313.50" y="210.85" width="7.55" height="8.21" fill="#d8604e"/>
<rect x="321.00" y="210.85" width="7.55" height="8.21" fill="#eeeef1"/>
<rect x="328.50" y="210.85" width="7.55" height="8.21" fill="#94c4e1"/>
<rect x="336.00" y="210.85" width="7.55" height="8.21" fill="#eeeef1"/>
<rect x="343.50" y="210.85" width="7.55" height="8.21" fill="#fbd6c3"/>
<rect x="351.00" y="210.85" width="7.55" height="8.21" fill="#d3e4f0"/>
<rect x="358.50" y="210.85" width="7.55" height="8.21" fill="#94c4e1"/>
<rect x="366.00" y="210.85" width="7.55" height="8.21" fill="#8c0a25"/>
<rect x="373.50" y="210.85" width="7.55" height="8.21" fill="#eeeef1"/>
<rect x="381.00" y="210.85" width="7.55" height="8.21" fill="#f2a684"/>
<rect x="388.50" y="210.85" width="7.55" height="8.21" fill="#94c4e1"/>
<rect x="261.00" y="219.01" width="7.55" height="8.21" fill="#fbd6c3"/>
<rect x="268.50" y="219.01" width="7.55" height="8.21" fill="#d3e4f0"/>
<rect x="276.00" y="219.01" width="7.55" height="8.21" fill="#fbd6c3"/>
<rect x="283.50" y="219.01" width="7.55" height="8.21" fill="#4f97c8"/>
<rect x="291.00" y="219.01" width="7.55" height="8.21" fill="#fbd6c3"/>
<rect x="298.50" y="219.01" width="7.55" height="8.21" fill="#4f97c8"/>
<rect x="306.00" y="219.01" width="7.55" height="8.21" fill="#fbd6c3"/>
<rect x="313.50" y="219.01" width="7.55" height="8.21" fill="#f2a684"/>
<rect x="321.00" y="219.01" width="7.55" height="8.21" fill="#b5202e"/>
<rect x="328.50" y="219.01" width="7.55" height="8.21" fill="#fbd6c3"/>
<rect x="336.00" y="219.01" width="7.55" height="8.21" fill="#4f97c8"/>
<rect x="343.50" y="219.01" width="7.55" height="8.21" fill="#94c4e1"/>
<rect x="351.00" y="219.01" width="7.55" height="8.21" fill="#d3e4f0"/>
<rect x="358.50" y="219.01" width="7.55" height="8.21" fill="#4f97c8"/>
<rect x="366.00" y="219.01" width="7.55" height="8.21" fill="#d3e4f0"/>
<rect x="373.50" y="219.01" width="7.55" height="8.21" fill="#fbd6c3"/>
<rect x="381.00" y="219.01" width="7.55" height="8.21" fill="#f2a684"/>
<rect x="388.50" y="219.01" width="7.55" height="8.21" fill="#fbd6c3"/>
<rect x="261.00" y="227.16" width="7.55" height="8.21" fill="#fbd6c3"/>
<rect x="268.50" y="227.16" width="7.55" height="8.21" fill="#fbd6c3"/>
<rect x="276.00" y="227.16" width="7.55" height="8.21" fill="#d3e4f0"/>
<rect x="283.50" y="227.16" width="7.55" height="8.21" fill="#94c4e1"/>
<rect x="291.00" y="227.16" width="7.55" height="8.21" fill="#d3e4f0"/>
<rect x="298.50" y="227.16" width="7.55" height="8.21" fill="#fbd6c3"/>
<rect x="306.00" y="227.16" width="7.55" height="8.21" fill="#d8604e"/>
<rect x="313.50" y="227.16" width="7.55" height="8.21" fill="#eeeef1"/>
<rect x="321.00" y="227.16" width="7.55" height="8.21" fill="#eeeef1"/>
<rect x="328.50" y="227.16" width="7.55" height="8.21" fill="#fbd6c3"/>
<rect x="336.00" y="227.16" width="7.55" height="8.21" fill="#4f97c8"/>
<rect x="343.50" y="227.16" width="7.55" height="8.21" fill="#94c4e1"/>
<rect x="351.00" y="227.16" width="7.55" height="8.21" fill="#d8604e"/>
<rect x="358.50" y="227.16" width="7.55" height="8.21" fill="#4f97c8"/>
<rect x="366.00" y="227.16" width="7.55" height="8.21" fill="#4f97c8"/>
<rect x="373.50" y="227.16" width="7.55" height="8.21" fill="#eeeef1"/>
<rect x="381.00" y="227.16" width="7.55" height="8.21" fill="#f2a684"/>
<rect x="388.50" y="227.16" width="7.55" height="8.21" fill="#b5202e"/>
<rect x="261.00" y="235.32" width="7.55" height="8.21" fill="#fbd6c3"/>
<rect x="268.50" y="235.32" width="7.55" height="8.21" fill="#2a6cb0"/>
<rect x="276.00" y="235.32" width="7.55" height="8.21" fill="#fbd6c3"/>
<rect x="283.50" y="235.32" width="7.55" height="8.21" fill="#fbd6c3"/>
<rect x="291.00" y="235.32" width="7.55" height="8.21" fill="#94c4e1"/>
<rect x="298.50" y="235.32" width="7.55" height="8.21" fill="#d3e4f0"/>
<rect x="306.00" y="235.32" width="7.55" height="8.21" fill="#fbd6c3"/>
<rect x="313.50" y="235.32" width="7.55" height="8.21" fill="#eeeef1"/>
<rect x="321.00" y="235.32" width="7.55" height="8.21" fill="#f2a684"/>
<rect x="328.50" y="235.32" width="7.55" height="8.21" fill="#94c4e1"/>
<rect x="336.00" y="235.32" width="7.55" height="8.21" fill="#94c4e1"/>
<rect x="343.50" y="235.32" width="7.55" height="8.21" fill="#94c4e1"/>
<rect x="351.00" y="235.32" width="7.55" height="8.21" fill="#4f97c8"/>
<rect x="358.50" y="235.32" width="7.55" height="8.21" fill="#d3e4f0"/>
<rect x="366.00" y="235.32" width="7.55" height="8.21" fill="#94c4e1"/>
<rect x="373.50" y="235.32" width="7.55" height="8.21" fill="#f2a684"/>
<rect x="381.00" y="235.32" width="7.55" height="8.21" fill="#f2a684"/>
<rect x="388.50" y="235.32" width="7.55" height="8.21" fill="#b5202e"/>
<rect x="261.00" y="243.47" width="7.55" height="8.21" fill="#94c4e1"/>
<rect x="268.50" y="243.47" width="7.55" height="8.21" fill="#94c4e1"/>
<rect x="276.00" y="243.47" width="7.55" height="8.21" fill="#94c4e1"/>
<rect x="283.50" y="243.47" width="7.55" height="8.21" fill="#94c4e1"/>
<rect x="291.00" y="243.47" width="7.55" height="8.21" fill="#94c4e1"/>
<rect x="298.50" y="243.47" width="7.55" height="8.21" fill="#94c4e1"/>
<rect x="306.00" y="243.47" width="7.55" height="8.21" fill="#d8604e"/>
<rect x="313.50" y="243.47" width="7.55" height="8.21" fill="#b5202e"/>
<rect x="321.00" y="243.47" width="7.55" height="8.21" fill="#fbd6c3"/>
<rect x="328.50" y="243.47" width="7.55" height="8.21" fill="#fbd6c3"/>
<rect x="336.00" y="243.47" width="7.55" height="8.21" fill="#94c4e1"/>
<rect x="343.50" y="243.47" width="7.55" height="8.21" fill="#d3e4f0"/>
<rect x="351.00" y="243.47" width="7.55" height="8.21" fill="#d3e4f0"/>
<rect x="358.50" y="243.47" width="7.55" height="8.21" fill="#d3e4f0"/>
<rect x="366.00" y="243.47" width="7.55" height="8.21" fill="#94c4e1"/>
<rect x="373.50" y="243.47" width="7.55" height="8.21" fill="#f2a684"/>
<rect x="381.00" y="243.47" width="7.55" height="8.21" fill="#f2a684"/>
<rect x="388.50" y="243.47" width="7.55" height="8.21" fill="#f2a684"/>
<rect x="261.00" y="251.63" width="7.55" height="8.21" fill="#94c4e1"/>
<rect x="268.50" y="251.63" width="7.55" height="8.21" fill="#4f97c8"/>
<rect x="276.00" y="251.63" width="7.55" height="8.21" fill="#fbd6c3"/>
<rect x="283.50" y="251.63" width="7.55" height="8.21" fill="#d3e4f0"/>
<rect x="291.00" y="251.63" width="7.55" height="8.21" fill="#94c4e1"/>
<rect x="298.50" y="251.63" width="7.55" height="8.21" fill="#f2a684"/>
<rect x="306.00" y="251.63" width="7.55" height="8.21" fill="#eeeef1"/>
<rect x="313.50" y="251.63" width="7.55" height="8.21" fill="#d8604e"/>
<rect x="321.00" y="251.63" width="7.55" height="8.21" fill="#d3e4f0"/>
<rect x="328.50" y="251.63" width="7.55" height="8.21" fill="#d8604e"/>
<rect x="336.00" y="251.63" width="7.55" height="8.21" fill="#4f97c8"/>
<rect x="343.50" y="251.63" width="7.55" height="8.21" fill="#94c4e1"/>
<rect x="351.00" y="251.63" width="7.55" height="8.21" fill="#94c4e1"/>
<rect x="358.50" y="251.63" width="7.55" height="8.21" fill="#94c4e1"/>
<rect x="366.00" y="251.63" width="7.55" height="8.21" fill="#94c4e1"/>
<rect x="373.50" y="251.63" width="7.55" height="8.21" fill="#d8604e"/>
<rect x="381.00" y="251.63" width="7.55" height="8.21" fill="#d8604e"/>
<rect x="388.50" y="251.63" width="7.55" height="8.21" fill="#eeeef1"/>
<rect x="261.00" y="259.78" width="7.55" height="8.21" fill="#4f97c8"/>
<rect x="268.50" y="259.78" width="7.55" height="8.21" fill="#4f97c8"/>
<rect x="276.00" y="259.78" width="7.55" height="8.21" fill="#d3e4f0"/>
<rect x="283.50" y="259.78" width="7.55" height="8.21" fill="#fbd6c3"/>
<rect x="291.00" y="259.78" width="7.55" height="8.21" fill="#4f97c8"/>
<rect x="298.50" y="259.78" width="7.55" height="8.21" fill="#d3e4f0"/>
<rect x="306.00" y="259.78" width="7.55" height="8.21" fill="#94c4e1"/>
<rect x="313.50" y="259.78" width="7.55" height="8.21" fill="#94c4e1"/>
<rect x="321.00" y="259.78" width="7.55" height="8.21" fill="#fbd6c3"/>
<rect x="328.50" y="259.78" width="7.55" height="8.21" fill="#fbd6c3"/>
<rect x="336.00" y="259.78" width="7.55" height="8.21" fill="#f2a684"/>
<rect x="343.50" y="259.78" width="7.55" height="8.21" fill="#eeeef1"/>
<rect x="351.00" y="259.78" width="7.55" height="8.21" fill="#b5202e"/>
<rect x="358.50" y="259.78" width="7.55" height="8.21" fill="#fbd6c3"/>
<rect x="366.00" y="259.78" width="7.55" height="8.21" fill="#f2a684"/>
<rect x="373.50" y="259.78" width="7.55" height="8.21" fill="#f2a684"/>
<rect x="381.00" y="259.78" width="7.55" height="8.21" fill="#d3e4f0"/>
<rect x="388.50" y="259.78" width="7.55" height="8.21" fill="#fbd6c3"/>
<rect x="261.00" y="267.94" width="7.55" height="8.21" fill="#0f3470"/>
<rect x="268.50" y="267.94" width="7.55" height="8.21" fill="#d3e4f0"/>
<rect x="276.00" y="267.94" width="7.55" height="8.21" fill="#4f97c8"/>
<rect x="283.50" y="267.94" width="7.55" height="8.21" fill="#fbd6c3"/>
<rect x="291.00" y="267.94" width="7.55" height="8.21" fill="#eeeef1"/>
<rect x="298.50" y="267.94" width="7.55" height="8.21" fill="#fbd6c3"/>
<rect x="306.00" y="267.94" width="7.55" height="8.21" fill="#fbd6c3"/>
<rect x="313.50" y="267.94" width="7.55" height="8.21" fill="#fbd6c3"/>
<rect x="321.00" y="267.94" width="7.55" height="8.21" fill="#d3e4f0"/>
<rect x="328.50" y="267.94" width="7.55" height="8.21" fill="#f2a684"/>
<rect x="336.00" y="267.94" width="7.55" height="8.21" fill="#eeeef1"/>
<rect x="343.50" y="267.94" width="7.55" height="8.21" fill="#94c4e1"/>
<rect x="351.00" y="267.94" width="7.55" height="8.21" fill="#f2a684"/>
<rect x="358.50" y="267.94" width="7.55" height="8.21" fill="#eeeef1"/>
<rect x="366.00" y="267.94" width="7.55" height="8.21" fill="#fbd6c3"/>
<rect x="373.50" y="267.94" width="7.55" height="8.21" fill="#b5202e"/>
<rect x="381.00" y="267.94" width="7.55" height="8.21" fill="#94c4e1"/>
<rect x="388.50" y="267.94" width="7.55" height="8.21" fill="#f2a684"/>
<rect x="261.00" y="276.09" width="7.55" height="8.21" fill="#94c4e1"/>
<rect x="268.50" y="276.09" width="7.55" height="8.21" fill="#94c4e1"/>
<rect x="276.00" y="276.09" width="7.55" height="8.21" fill="#4f97c8"/>
<rect x="283.50" y="276.09" width="7.55" height="8.21" fill="#f2a684"/>
<rect x="291.00" y="276.09" width="7.55" height="8.21" fill="#94c4e1"/>
<rect x="298.50" y="276.09" width="7.55" height="8.21" fill="#fbd6c3"/>
<rect x="306.00" y="276.09" width="7.55" height="8.21" fill="#d3e4f0"/>
<rect x="313.50" y="276.09" width="7.55" height="8.21" fill="#fbd6c3"/>
<rect x="321.00" y="276.09" width="7.55" height="8.21" fill="#f2a684"/>
<rect x="328.50" y="276.09" width="7.55" height="8.21" fill="#f2a684"/>
<rect x="336.00" y="276.09" width="7.55" height="8.21" fill="#f2a684"/>
<rect x="343.50" y="276.09" width="7.55" height="8.21" fill="#4f97c8"/>
<rect x="351.00" y="276.09" width="7.55" height="8.21" fill="#fbd6c3"/>
<rect x="358.50" y="276.09" width="7.55" height="8.21" fill="#94c4e1"/>
<rect x="366.00" y="276.09" width="7.55" height="8.21" fill="#4f97c8"/>
<rect x="373.50" y="276.09" width="7.55" height="8.21" fill="#f2a684"/>
<rect x="381.00" y="276.09" width="7.55" height="8.21" fill="#f2a684"/>
<rect x="388.50" y="276.09" width="7.55" height="8.21" fill="#fbd6c3"/>
<rect x="261.00" y="284.25" width="7.55" height="8.21" fill="#94c4e1"/>
<rect x="268.50" y="284.25" width="7.55" height="8.21" fill="#94c4e1"/>
<rect x="276.00" y="284.25" width="7.55" height="8.21" fill="#94c4e1"/>
<rect x="283.50" y="284.25" width="7.55" height="8.21" fill="#f2a684"/>
<rect x="291.00" y="284.25" width="7.55" height="8.21" fill="#94c4e1"/>
<rect x="298.50" y="284.25" width="7.55" height="8.21" fill="#d3e4f0"/>
<rect x="306.00" y="284.25" width="7.55" height="8.21" fill="#94c4e1"/>
<rect x="313.50" y="284.25" width="7.55" height="8.21" fill="#94c4e1"/>
<rect x="321.00" y="284.25" width="7.55" height="8.21" fill="#d3e4f0"/>
<rect x="328.50" y="284.25" width="7.55" height="8.21" fill="#f2a684"/>
<rect x="336.00" y="284.25" width="7.55" height="8.21" fill="#fbd6c3"/>
<rect x="343.50" y="284.25" width="7.55" height="8.21" fill="#4f97c8"/>
<rect x="351.00" y="284.25" width="7.55" height="8.21" fill="#fbd6c3"/>
<rect x="358.50" y="284.25" width="7.55" height="8.21" fill="#b5202e"/>
<rect x="366.00" y="284.25" width="7.55" height="8.21" fill="#fbd6c3"/>
<rect x="373.50" y="284.25" width="7.55" height="8.21" fill="#fbd6c3"/>
<rect x="381.00" y="284.25" width="7.55" height="8.21" fill="#f2a684"/>
<rect x="388.50" y="284.25" width="7.55" height="8.21" fill="#eeeef1"/>
<rect x="261.00" y="292.40" width="7.55" height="8.21" fill="#4f97c8"/>
<rect x="268.50" y="292.40" width="7.55" height="8.21" fill="#d3e4f0"/>
<rect x="276.00" y="292.40" width="7.55" height="8.21" fill="#94c4e1"/>
<rect x="283.50" y="292.40" width="7.55" height="8.21" fill="#fbd6c3"/>
<rect x="291.00" y="292.40" width="7.55" height="8.21" fill="#fbd6c3"/>
<rect x="298.50" y="292.40" width="7.55" height="8.21" fill="#f2a684"/>
<rect x="306.00" y="292.40" width="7.55" height="8.21" fill="#fbd6c3"/>
<rect x="313.50" y="292.40" width="7.55" height="8.21" fill="#2a6cb0"/>
<rect x="321.00" y="292.40" width="7.55" height="8.21" fill="#94c4e1"/>
<rect x="328.50" y="292.40" width="7.55" height="8.21" fill="#94c4e1"/>
<rect x="336.00" y="292.40" width="7.55" height="8.21" fill="#d3e4f0"/>
<rect x="343.50" y="292.40" width="7.55" height="8.21" fill="#4f97c8"/>
<rect x="351.00" y="292.40" width="7.55" height="8.21" fill="#f2a684"/>
<rect x="358.50" y="292.40" width="7.55" height="8.21" fill="#f2a684"/>
<rect x="366.00" y="292.40" width="7.55" height="8.21" fill="#fbd6c3"/>
<rect x="373.50" y="292.40" width="7.55" height="8.21" fill="#fbd6c3"/>
<rect x="381.00" y="292.40" width="7.55" height="8.21" fill="#d8604e"/>
<rect x="388.50" y="292.40" width="7.55" height="8.21" fill="#d3e4f0"/>
<rect x="261.00" y="300.56" width="7.55" height="8.21" fill="#fbd6c3"/>
<rect x="268.50" y="300.56" width="7.55" height="8.21" fill="#94c4e1"/>
<rect x="276.00" y="300.56" width="7.55" height="8.21" fill="#d3e4f0"/>
<rect x="283.50" y="300.56" width="7.55" height="8.21" fill="#d8604e"/>
<rect x="291.00" y="300.56" width="7.55" height="8.21" fill="#fbd6c3"/>
<rect x="298.50" y="300.56" width="7.55" height="8.21" fill="#fbd6c3"/>
<rect x="306.00" y="300.56" width="7.55" height="8.21" fill="#94c4e1"/>
<rect x="313.50" y="300.56" width="7.55" height="8.21" fill="#d8604e"/>
<rect x="321.00" y="300.56" width="7.55" height="8.21" fill="#f2a684"/>
<rect x="328.50" y="300.56" width="7.55" height="8.21" fill="#d3e4f0"/>
<rect x="336.00" y="300.56" width="7.55" height="8.21" fill="#2a6cb0"/>
<rect x="343.50" y="300.56" width="7.55" height="8.21" fill="#4f97c8"/>
<rect x="351.00" y="300.56" width="7.55" height="8.21" fill="#f2a684"/>
<rect x="358.50" y="300.56" width="7.55" height="8.21" fill="#94c4e1"/>
<rect x="366.00" y="300.56" width="7.55" height="8.21" fill="#94c4e1"/>
<rect x="373.50" y="300.56" width="7.55" height="8.21" fill="#f2a684"/>
<rect x="381.00" y="300.56" width="7.55" height="8.21" fill="#fbd6c3"/>
<rect x="388.50" y="300.56" width="7.55" height="8.21" fill="#94c4e1"/>
<rect x="261.00" y="308.71" width="7.55" height="8.21" fill="#f2a684"/>
<rect x="268.50" y="308.71" width="7.55" height="8.21" fill="#2a6cb0"/>
<rect x="276.00" y="308.71" width="7.55" height="8.21" fill="#94c4e1"/>
<rect x="283.50" y="308.71" width="7.55" height="8.21" fill="#f2a684"/>
<rect x="291.00" y="308.71" width="7.55" height="8.21" fill="#eeeef1"/>
<rect x="298.50" y="308.71" width="7.55" height="8.21" fill="#d3e4f0"/>
<rect x="306.00" y="308.71" width="7.55" height="8.21" fill="#eeeef1"/>
<rect x="313.50" y="308.71" width="7.55" height="8.21" fill="#f2a684"/>
<rect x="321.00" y="308.71" width="7.55" height="8.21" fill="#4f97c8"/>
<rect x="328.50" y="308.71" width="7.55" height="8.21" fill="#d3e4f0"/>
<rect x="336.00" y="308.71" width="7.55" height="8.21" fill="#4f97c8"/>
<rect x="343.50" y="308.71" width="7.55" height="8.21" fill="#4f97c8"/>
<rect x="351.00" y="308.71" width="7.55" height="8.21" fill="#fbd6c3"/>
<rect x="358.50" y="308.71" width="7.55" height="8.21" fill="#d3e4f0"/>
<rect x="366.00" y="308.71" width="7.55" height="8.21" fill="#fbd6c3"/>
<rect x="373.50" y="308.71" width="7.55" height="8.21" fill="#fbd6c3"/>
<rect x="381.00" y="308.71" width="7.55" height="8.21" fill="#d8604e"/>
<rect x="388.50" y="308.71" width="7.55" height="8.21" fill="#f2a684"/>
<rect x="261.00" y="316.87" width="7.55" height="8.21" fill="#4f97c8"/>
<rect x="268.50" y="316.87" width="7.55" height="8.21" fill="#f2a684"/>
<rect x="276.00" y="316.87" width="7.55" height="8.21" fill="#94c4e1"/>
<rect x="283.50" y="316.87" width="7.55" height="8.21" fill="#fbd6c3"/>
<rect x="291.00" y="316.87" width="7.55" height="8.21" fill="#fbd6c3"/>
<rect x="298.50" y="316.87" width="7.55" height="8.21" fill="#d8604e"/>
<rect x="306.00" y="316.87" width="7.55" height="8.21" fill="#94c4e1"/>
<rect x="313.50" y="316.87" width="7.55" height="8.21" fill="#f2a684"/>
<rect x="321.00" y="316.87" width="7.55" height="8.21" fill="#eeeef1"/>
<rect x="328.50" y="316.87" width="7.55" height="8.21" fill="#94c4e1"/>
<rect x="336.00" y="316.87" width="7.55" height="8.21" fill="#4f97c8"/>
<rect x="343.50" y="316.87" width="7.55" height="8.21" fill="#4f97c8"/>
<rect x="351.00" y="316.87" width="7.55" height="8.21" fill="#d3e4f0"/>
<rect x="358.50" y="316.87" width="7.55" height="8.21" fill="#94c4e1"/>
<rect x="366.00" y="316.87" width="7.55" height="8.21" fill="#f2a684"/>
<rect x="373.50" y="316.87" width="7.55" height="8.21" fill="#fbd6c3"/>
<rect x="381.00" y="316.87" width="7.55" height="8.21" fill="#f2a684"/>
<rect x="388.50" y="316.87" width="7.55" height="8.21" fill="#f2a684"/>
<rect x="261.00" y="325.02" width="7.55" height="8.21" fill="#94c4e1"/>
<rect x="268.50" y="325.02" width="7.55" height="8.21" fill="#4f97c8"/>
<rect x="276.00" y="325.02" width="7.55" height="8.21" fill="#d3e4f0"/>
<rect x="283.50" y="325.02" width="7.55" height="8.21" fill="#fbd6c3"/>
<rect x="291.00" y="325.02" width="7.55" height="8.21" fill="#d3e4f0"/>
<rect x="298.50" y="325.02" width="7.55" height="8.21" fill="#f2a684"/>
<rect x="306.00" y="325.02" width="7.55" height="8.21" fill="#94c4e1"/>
<rect x="313.50" y="325.02" width="7.55" height="8.21" fill="#94c4e1"/>
<rect x="321.00" y="325.02" width="7.55" height="8.21" fill="#f2a684"/>
<rect x="328.50" y="325.02" width="7.55" height="8.21" fill="#94c4e1"/>
<rect x="336.00" y="325.02" width="7.55" height="8.21" fill="#94c4e1"/>
<rect x="343.50" y="325.02" width="7.55" height="8.21" fill="#4f97c8"/>
<rect x="351.00" y="325.02" width="7.55" height="8.21" fill="#fbd6c3"/>
<rect x="358.50" y="325.02" width="7.55" height="8.21" fill="#fbd6c3"/>
<rect x="366.00" y="325.02" width="7.55" height="8.21" fill="#94c4e1"/>
<rect x="373.50" y="325.02" width="7.55" height="8.21" fill="#d8604e"/>
<rect x="381.00" y="325.02" width="7.55" height="8.21" fill="#8c0a25"/>
<rect x="388.50" y="325.02" width="7.55" height="8.21" fill="#fbd6c3"/>
<rect x="261.00" y="333.18" width="7.55" height="8.21" fill="#94c4e1"/>
<rect x="268.50" y="333.18" width="7.55" height="8.21" fill="#d3e4f0"/>
<rect x="276.00" y="333.18" width="7.55" height="8.21" fill="#4f97c8"/>
<rect x="283.50" y="333.18" width="7.55" height="8.21" fill="#b5202e"/>
<rect x="291.00" y="333.18" width="7.55" height="8.21" fill="#fbd6c3"/>
<rect x="298.50" y="333.18" width="7.55" height="8.21" fill="#f2a684"/>
<rect x="306.00" y="333.18" width="7.55" height="8.21" fill="#fbd6c3"/>
<rect x="313.50" y="333.18" width="7.55" height="8.21" fill="#94c4e1"/>
<rect x="321.00" y="333.18" width="7.55" height="8.21" fill="#fbd6c3"/>
<rect x="328.50" y="333.18" width="7.55" height="8.21" fill="#94c4e1"/>
<rect x="336.00" y="333.18" width="7.55" height="8.21" fill="#4f97c8"/>
<rect x="343.50" y="333.18" width="7.55" height="8.21" fill="#94c4e1"/>
<rect x="351.00" y="333.18" width="7.55" height="8.21" fill="#d8604e"/>
<rect x="358.50" y="333.18" width="7.55" height="8.21" fill="#f2a684"/>
<rect x="366.00" y="333.18" width="7.55" height="8.21" fill="#94c4e1"/>
<rect x="373.50" y="333.18" width="7.55" height="8.21" fill="#d3e4f0"/>
<rect x="381.00" y="333.18" width="7.55" height="8.21" fill="#f2a684"/>
<rect x="388.50" y="333.18" width="7.55" height="8.21" fill="#fbd6c3"/>
<rect x="261.00" y="341.33" width="7.55" height="8.21" fill="#4f97c8"/>
<rect x="268.50" y="341.33" width="7.55" height="8.21" fill="#94c4e1"/>
<rect x="276.00" y="341.33" width="7.55" height="8.21" fill="#4f97c8"/>
<rect x="283.50" y="341.33" width="7.55" height="8.21" fill="#fbd6c3"/>
<rect x="291.00" y="341.33" width="7.55" height="8.21" fill="#f2a684"/>
<rect x="298.50" y="341.33" width="7.55" height="8.21" fill="#fbd6c3"/>
<rect x="306.00" y="341.33" width="7.55" height="8.21" fill="#d3e4f0"/>
<rect x="313.50" y="341.33" width="7.55" height="8.21" fill="#d3e4f0"/>
<rect x="321.00" y="341.33" width="7.55" height="8.21" fill="#eeeef1"/>
<rect x="328.50" y="341.33" width="7.55" height="8.21" fill="#94c4e1"/>
<rect x="336.00" y="341.33" width="7.55" height="8.21" fill="#4f97c8"/>
<rect x="343.50" y="341.33" width="7.55" height="8.21" fill="#94c4e1"/>
<rect x="351.00" y="341.33" width="7.55" height="8.21" fill="#eeeef1"/>
<rect x="358.50" y="341.33" width="7.55" height="8.21" fill="#f2a684"/>
<rect x="366.00" y="341.33" width="7.55" height="8.21" fill="#eeeef1"/>
<rect x="373.50" y="341.33" width="7.55" height="8.21" fill="#f2a684"/>
<rect x="381.00" y="341.33" width="7.55" height="8.21" fill="#fbd6c3"/>
<rect x="388.50" y="341.33" width="7.55" height="8.21" fill="#d8604e"/>
<rect x="261.00" y="349.49" width="7.55" height="8.21" fill="#94c4e1"/>
<rect x="268.50" y="349.49" width="7.55" height="8.21" fill="#4f97c8"/>
<rect x="276.00" y="349.49" width="7.55" height="8.21" fill="#94c4e1"/>
<rect x="283.50" y="349.49" width="7.55" height="8.21" fill="#eeeef1"/>
<rect x="291.00" y="349.49" width="7.55" height="8.21" fill="#f2a684"/>
<rect x="298.50" y="349.49" width="7.55" height="8.21" fill="#fbd6c3"/>
<rect x="306.00" y="349.49" width="7.55" height="8.21" fill="#d3e4f0"/>
<rect x="313.50" y="349.49" width="7.55" height="8.21" fill="#eeeef1"/>
<rect x="321.00" y="349.49" width="7.55" height="8.21" fill="#d8604e"/>
<rect x="328.50" y="349.49" width="7.55" height="8.21" fill="#eeeef1"/>
<rect x="336.00" y="349.49" width="7.55" height="8.21" fill="#4f97c8"/>
<rect x="343.50" y="349.49" width="7.55" height="8.21" fill="#4f97c8"/>
<rect x="351.00" y="349.49" width="7.55" height="8.21" fill="#f2a684"/>
<rect x="358.50" y="349.49" width="7.55" height="8.21" fill="#fbd6c3"/>
<rect x="366.00" y="349.49" width="7.55" height="8.21" fill="#d8604e"/>
<rect x="373.50" y="349.49" width="7.55" height="8.21" fill="#94c4e1"/>
<rect x="381.00" y="349.49" width="7.55" height="8.21" fill="#fbd6c3"/>
<rect x="388.50" y="349.49" width="7.55" height="8.21" fill="#fbd6c3"/>
<rect x="261.00" y="357.64" width="7.55" height="8.21" fill="#94c4e1"/>
<rect x="268.50" y="357.64" width="7.55" height="8.21" fill="#4f97c8"/>
<rect x="276.00" y="357.64" width="7.55" height="8.21" fill="#94c4e1"/>
<rect x="283.50" y="357.64" width="7.55" height="8.21" fill="#eeeef1"/>
<rect x="291.00" y="357.64" width="7.55" height="8.21" fill="#d3e4f0"/>
<rect x="298.50" y="357.64" width="7.55" height="8.21" fill="#fbd6c3"/>
<rect x="306.00" y="357.64" width="7.55" height="8.21" fill="#fbd6c3"/>
<rect x="313.50" y="357.64" width="7.55" height="8.21" fill="#eeeef1"/>
<rect x="321.00" y="357.64" width="7.55" height="8.21" fill="#fbd6c3"/>
<rect x="328.50" y="357.64" width="7.55" height="8.21" fill="#94c4e1"/>
<rect x="336.00" y="357.64" width="7.55" height="8.21" fill="#d3e4f0"/>
<rect x="343.50" y="357.64" width="7.55" height="8.21" fill="#4f97c8"/>
<rect x="351.00" y="357.64" width="7.55" height="8.21" fill="#d8604e"/>
<rect x="358.50" y="357.64" width="7.55" height="8.21" fill="#fbd6c3"/>
<rect x="366.00" y="357.64" width="7.55" height="8.21" fill="#f2a684"/>
<rect x="373.50" y="357.64" width="7.55" height="8.21" fill="#fbd6c3"/>
<rect x="381.00" y="357.64" width="7.55" height="8.21" fill="#d8604e"/>
<rect x="388.50" y="357.64" width="7.55" height="8.21" fill="#fbd6c3"/>
<rect x="261.00" y="365.80" width="7.55" height="8.21" fill="#94c4e1"/>
<rect x="268.50" y="365.80" width="7.55" height="8.21" fill="#4f97c8"/>
<rect x="276.00" y="365.80" width="7.55" height="8.21" fill="#4f97c8"/>
<rect x="283.50" y="365.80" width="7.55" height="8.21" fill="#fbd6c3"/>
<rect x="291.00" y="365.80" width="7.55" height="8.21" fill="#d3e4f0"/>
<rect x="298.50" y="365.80" width="7.55" height="8.21" fill="#f2a684"/>
<rect x="306.00" y="365.80" width="7.55" height="8.21" fill="#fbd6c3"/>
<rect x="313.50" y="365.80" width="7.55" height="8.21" fill="#f2a684"/>
<rect x="321.00" y="365.80" width="7.55" height="8.21" fill="#fbd6c3"/>
<rect x="328.50" y="365.80" width="7.55" height="8.21" fill="#94c4e1"/>
<rect x="336.00" y="365.80" width="7.55" height="8.21" fill="#d3e4f0"/>
<rect x="343.50" y="365.80" width="7.55" height="8.21" fill="#4f97c8"/>
<rect x="351.00" y="365.80" width="7.55" height="8.21" fill="#f2a684"/>
<rect x="358.50" y="365.80" width="7.55" height="8.21" fill="#f2a684"/>
<rect x="366.00" y="365.80" width="7.55" height="8.21" fill="#fbd6c3"/>
<rect x="373.50" y="365.80" width="7.55" height="8.21" fill="#fbd6c3"/>
<rect x="381.00" y="365.80" width="7.55" height="8.21" fill="#d3e4f0"/>
<rect x="388.50" y="365.80" width="7.55" height="8.21" fill="#d3e4f0"/>
<rect x="261.00" y="373.95" width="7.55" height="8.21" fill="#4f97c8"/>
<rect x="268.50" y="373.95" width="7.55" height="8.21" fill="#94c4e1"/>
<rect x="276.00" y="373.95" width="7.55" height="8.21" fill="#94c4e1"/>
<rect x="283.50" y="373.95" width="7.55" height="8.21" fill="#b5202e"/>
<rect x="291.00" y="373.95" width="7.55" height="8.21" fill="#d3e4f0"/>
<rect x="298.50" y="373.95" width="7.55" height="8.21" fill="#fbd6c3"/>
<rect x="306.00" y="373.95" width="7.55" height="8.21" fill="#fbd6c3"/>
<rect x="313.50" y="373.95" width="7.55" height="8.21" fill="#fbd6c3"/>
<rect x="321.00" y="373.95" width="7.55" height="8.21" fill="#fbd6c3"/>
<rect x="328.50" y="373.95" width="7.55" height="8.21" fill="#94c4e1"/>
<rect x="336.00" y="373.95" width="7.55" height="8.21" fill="#d3e4f0"/>
<rect x="343.50" y="373.95" width="7.55" height="8.21" fill="#4f97c8"/>
<rect x="351.00" y="373.95" width="7.55" height="8.21" fill="#f2a684"/>
<rect x="358.50" y="373.95" width="7.55" height="8.21" fill="#f2a684"/>
<rect x="366.00" y="373.95" width="7.55" height="8.21" fill="#eeeef1"/>
<rect x="373.50" y="373.95" width="7.55" height="8.21" fill="#d3e4f0"/>
<rect x="381.00" y="373.95" width="7.55" height="8.21" fill="#fbd6c3"/>
<rect x="388.50" y="373.95" width="7.55" height="8.21" fill="#d3e4f0"/>
<rect x="261.00" y="382.11" width="7.55" height="8.21" fill="#94c4e1"/>
<rect x="268.50" y="382.11" width="7.55" height="8.21" fill="#4f97c8"/>
<rect x="276.00" y="382.11" width="7.55" height="8.21" fill="#94c4e1"/>
<rect x="283.50" y="382.11" width="7.55" height="8.21" fill="#d3e4f0"/>
<rect x="291.00" y="382.11" width="7.55" height="8.21" fill="#fbd6c3"/>
<rect x="298.50" y="382.11" width="7.55" height="8.21" fill="#f2a684"/>
<rect x="306.00" y="382.11" width="7.55" height="8.21" fill="#eeeef1"/>
<rect x="313.50" y="382.11" width="7.55" height="8.21" fill="#d8604e"/>
<rect x="321.00" y="382.11" width="7.55" height="8.21" fill="#fbd6c3"/>
<rect x="328.50" y="382.11" width="7.55" height="8.21" fill="#94c4e1"/>
<rect x="336.00" y="382.11" width="7.55" height="8.21" fill="#4f97c8"/>
<rect x="343.50" y="382.11" width="7.55" height="8.21" fill="#4f97c8"/>
<rect x="351.00" y="382.11" width="7.55" height="8.21" fill="#f2a684"/>
<rect x="358.50" y="382.11" width="7.55" height="8.21" fill="#f2a684"/>
<rect x="366.00" y="382.11" width="7.55" height="8.21" fill="#fbd6c3"/>
<rect x="373.50" y="382.11" width="7.55" height="8.21" fill="#d8604e"/>
<rect x="381.00" y="382.11" width="7.55" height="8.21" fill="#fbd6c3"/>
<rect x="388.50" y="382.11" width="7.55" height="8.21" fill="#eeeef1"/>
<rect x="261.00" y="390.26" width="7.55" height="8.21" fill="#4f97c8"/>
<rect x="268.50" y="390.26" width="7.55" height="8.21" fill="#4f97c8"/>
<rect x="276.00" y="390.26" width="7.55" height="8.21" fill="#d3e4f0"/>
<rect x="283.50" y="390.26" width="7.55" height="8.21" fill="#eeeef1"/>
<rect x="291.00" y="390.26" width="7.55" height="8.21" fill="#f2a684"/>
<rect x="298.50" y="390.26" width="7.55" height="8.21" fill="#f2a684"/>
<rect x="306.00" y="390.26" width="7.55" height="8.21" fill="#fbd6c3"/>
<rect x="313.50" y="390.26" width="7.55" height="8.21" fill="#fbd6c3"/>
<rect x="321.00" y="390.26" width="7.55" height="8.21" fill="#eeeef1"/>
<rect x="328.50" y="390.26" width="7.55" height="8.21" fill="#4f97c8"/>
<rect x="336.00" y="390.26" width="7.55" height="8.21" fill="#94c4e1"/>
<rect x="343.50" y="390.26" width="7.55" height="8.21" fill="#4f97c8"/>
<rect x="351.00" y="390.26" width="7.55" height="8.21" fill="#f2a684"/>
<rect x="358.50" y="390.26" width="7.55" height="8.21" fill="#eeeef1"/>
<rect x="366.00" y="390.26" width="7.55" height="8.21" fill="#d8604e"/>
<rect x="373.50" y="390.26" width="7.55" height="8.21" fill="#f2a684"/>
<rect x="381.00" y="390.26" width="7.55" height="8.21" fill="#f2a684"/>
<rect x="388.50" y="390.26" width="7.55" height="8.21" fill="#fbd6c3"/>
<rect x="261.00" y="398.42" width="7.55" height="8.21" fill="#94c4e1"/>
<rect x="268.50" y="398.42" width="7.55" height="8.21" fill="#0f3470"/>
<rect x="276.00" y="398.42" width="7.55" height="8.21" fill="#d3e4f0"/>
<rect x="283.50" y="398.42" width="7.55" height="8.21" fill="#f2a684"/>
<rect x="291.00" y="398.42" width="7.55" height="8.21" fill="#fbd6c3"/>
<rect x="298.50" y="398.42" width="7.55" height="8.21" fill="#fbd6c3"/>
<rect x="306.00" y="398.42" width="7.55" height="8.21" fill="#f2a684"/>
<rect x="313.50" y="398.42" width="7.55" height="8.21" fill="#fbd6c3"/>
<rect x="321.00" y="398.42" width="7.55" height="8.21" fill="#f2a684"/>
<rect x="328.50" y="398.42" width="7.55" height="8.21" fill="#94c4e1"/>
<rect x="336.00" y="398.42" width="7.55" height="8.21" fill="#94c4e1"/>
<rect x="343.50" y="398.42" width="7.55" height="8.21" fill="#4f97c8"/>
<rect x="351.00" y="398.42" width="7.55" height="8.21" fill="#f2a684"/>
<rect x="358.50" y="398.42" width="7.55" height="8.21" fill="#fbd6c3"/>
<rect x="366.00" y="398.42" width="7.55" height="8.21" fill="#fbd6c3"/>
<rect x="373.50" y="398.42" width="7.55" height="8.21" fill="#eeeef1"/>
<rect x="381.00" y="398.42" width="7.55" height="8.21" fill="#fbd6c3"/>
<rect x="388.50" y="398.42" width="7.55" height="8.21" fill="#f2a684"/>
<rect x="261.00" y="406.57" width="7.55" height="8.21" fill="#94c4e1"/>
<rect x="268.50" y="406.57" width="7.55" height="8.21" fill="#94c4e1"/>
<rect x="276.00" y="406.57" width="7.55" height="8.21" fill="#4f97c8"/>
<rect x="283.50" y="406.57" width="7.55" height="8.21" fill="#f2a684"/>
<rect x="291.00" y="406.57" width="7.55" height="8.21" fill="#d3e4f0"/>
<rect x="298.50" y="406.57" width="7.55" height="8.21" fill="#fbd6c3"/>
<rect x="306.00" y="406.57" width="7.55" height="8.21" fill="#fbd6c3"/>
<rect x="313.50" y="406.57" width="7.55" height="8.21" fill="#fbd6c3"/>
<rect x="321.00" y="406.57" width="7.55" height="8.21" fill="#f2a684"/>
<rect x="328.50" y="406.57" width="7.55" height="8.21" fill="#94c4e1"/>
<rect x="336.00" y="406.57" width="7.55" height="8.21" fill="#94c4e1"/>
<rect x="343.50" y="406.57" width="7.55" height="8.21" fill="#4f97c8"/>
<rect x="351.00" y="406.57" width="7.55" height="8.21" fill="#f2a684"/>
<rect x="358.50" y="406.57" width="7.55" height="8.21" fill="#fbd6c3"/>
<rect x="366.00" y="406.57" width="7.55" height="8.21" fill="#fbd6c3"/>
<rect x="373.50" y="406.57" width="7.55" height="8.21" fill="#fbd6c3"/>
<rect x="381.00" y="406.57" width="7.55" height="8.21" fill="#d8604e"/>
<rect x="388.50" y="406.57" width="7.55" height="8.21" fill="#f2a684"/>
<rect x="261.00" y="414.73" width="7.55" height="8.21" fill="#4f97c8"/>
<rect x="268.50" y="414.73" width="7.55" height="8.21" fill="#94c4e1"/>
<rect x="276.00" y="414.73" width="7.55" height="8.21" fill="#d3e4f0"/>
<rect x="283.50" y="414.73" width="7.55" height="8.21" fill="#f2a684"/>
<rect x="291.00" y="414.73" width="7.55" height="8.21" fill="#d3e4f0"/>
<rect x="298.50" y="414.73" width="7.55" height="8.21" fill="#f2a684"/>
<rect x="306.00" y="414.73" width="7.55" height="8.21" fill="#fbd6c3"/>
<rect x="313.50" y="414.73" width="7.55" height="8.21" fill="#f2a684"/>
<rect x="321.00" y="414.73" width="7.55" height="8.21" fill="#f2a684"/>
<rect x="328.50" y="414.73" width="7.55" height="8.21" fill="#94c4e1"/>
<rect x="336.00" y="414.73" width="7.55" height="8.21" fill="#4f97c8"/>
<rect x="343.50" y="414.73" width="7.55" height="8.21" fill="#4f97c8"/>
<rect x="351.00" y="414.73" width="7.55" height="8.21" fill="#f2a684"/>
<rect x="358.50" y="414.73" width="7.55" height="8.21" fill="#fbd6c3"/>
<rect x="366.00" y="414.73" width="7.55" height="8.21" fill="#fbd6c3"/>
<rect x="373.50" y="414.73" width="7.55" height="8.21" fill="#fbd6c3"/>
<rect x="381.00" y="414.73" width="7.55" height="8.21" fill="#fbd6c3"/>
<rect x="388.50" y="414.73" width="7.55" height="8.21" fill="#d8604e"/>
<rect x="261.00" y="422.88" width="7.55" height="8.21" fill="#d3e4f0"/>
<rect x="268.50" y="422.88" width="7.55" height="8.21" fill="#d3e4f0"/>
<rect x="276.00" y="422.88" width="7.55" height="8.21" fill="#94c4e1"/>
<rect x="283.50" y="422.88" width="7.55" height="8.21" fill="#4f97c8"/>
<rect x="291.00" y="422.88" width="7.55" height="8.21" fill="#d3e4f0"/>
<rect x="298.50" y="422.88" width="7.55" height="8.21" fill="#d8604e"/>
<rect x="306.00" y="422.88" width="7.55" height="8.21" fill="#b5202e"/>
<rect x="313.50" y="422.88" width="7.55" height="8.21" fill="#d3e4f0"/>
<rect x="321.00" y="422.88" width="7.55" height="8.21" fill="#fbd6c3"/>
<rect x="328.50" y="422.88" width="7.55" height="8.21" fill="#94c4e1"/>
<rect x="336.00" y="422.88" width="7.55" height="8.21" fill="#d3e4f0"/>
<rect x="343.50" y="422.88" width="7.55" height="8.21" fill="#4f97c8"/>
<rect x="351.00" y="422.88" width="7.55" height="8.21" fill="#d3e4f0"/>
<rect x="358.50" y="422.88" width="7.55" height="8.21" fill="#d8604e"/>
<rect x="366.00" y="422.88" width="7.55" height="8.21" fill="#eeeef1"/>
<rect x="373.50" y="422.88" width="7.55" height="8.21" fill="#f2a684"/>
<rect x="381.00" y="422.88" width="7.55" height="8.21" fill="#fbd6c3"/>
<rect x="388.50" y="422.88" width="7.55" height="8.21" fill="#d3e4f0"/>
<rect x="261.00" y="431.04" width="7.55" height="8.21" fill="#94c4e1"/>
<rect x="268.50" y="431.04" width="7.55" height="8.21" fill="#94c4e1"/>
<rect x="276.00" y="431.04" width="7.55" height="8.21" fill="#94c4e1"/>
<rect x="283.50" y="431.04" width="7.55" height="8.21" fill="#d3e4f0"/>
<rect x="291.00" y="431.04" width="7.55" height="8.21" fill="#d3e4f0"/>
<rect x="298.50" y="431.04" width="7.55" height="8.21" fill="#d3e4f0"/>
<rect x="306.00" y="431.04" width="7.55" height="8.21" fill="#d8604e"/>
<rect x="313.50" y="431.04" width="7.55" height="8.21" fill="#f2a684"/>
<rect x="321.00" y="431.04" width="7.55" height="8.21" fill="#f2a684"/>
<rect x="328.50" y="431.04" width="7.55" height="8.21" fill="#94c4e1"/>
<rect x="336.00" y="431.04" width="7.55" height="8.21" fill="#94c4e1"/>
<rect x="343.50" y="431.04" width="7.55" height="8.21" fill="#4f97c8"/>
<rect x="351.00" y="431.04" width="7.55" height="8.21" fill="#d8604e"/>
<rect x="358.50" y="431.04" width="7.55" height="8.21" fill="#fbd6c3"/>
<rect x="366.00" y="431.04" width="7.55" height="8.21" fill="#fbd6c3"/>
<rect x="373.50" y="431.04" width="7.55" height="8.21" fill="#d8604e"/>
<rect x="381.00" y="431.04" width="7.55" height="8.21" fill="#d3e4f0"/>
<rect x="388.50" y="431.04" width="7.55" height="8.21" fill="#d3e4f0"/>
<rect x="261.00" y="439.19" width="7.55" height="8.21" fill="#2a6cb0"/>
<rect x="268.50" y="439.19" width="7.55" height="8.21" fill="#d3e4f0"/>
<rect x="276.00" y="439.19" width="7.55" height="8.21" fill="#4f97c8"/>
<rect x="283.50" y="439.19" width="7.55" height="8.21" fill="#fbd6c3"/>
<rect x="291.00" y="439.19" width="7.55" height="8.21" fill="#d3e4f0"/>
<rect x="298.50" y="439.19" width="7.55" height="8.21" fill="#fbd6c3"/>
<rect x="306.00" y="439.19" width="7.55" height="8.21" fill="#fbd6c3"/>
<rect x="313.50" y="439.19" width="7.55" height="8.21" fill="#fbd6c3"/>
<rect x="321.00" y="439.19" width="7.55" height="8.21" fill="#f2a684"/>
<rect x="328.50" y="439.19" width="7.55" height="8.21" fill="#d3e4f0"/>
<rect x="336.00" y="439.19" width="7.55" height="8.21" fill="#4f97c8"/>
<rect x="343.50" y="439.19" width="7.55" height="8.21" fill="#eeeef1"/>
<rect x="351.00" y="439.19" width="7.55" height="8.21" fill="#f2a684"/>
<rect x="358.50" y="439.19" width="7.55" height="8.21" fill="#fbd6c3"/>
<rect x="366.00" y="439.19" width="7.55" height="8.21" fill="#f2a684"/>
<rect x="373.50" y="439.19" width="7.55" height="8.21" fill="#b5202e"/>
<rect x="381.00" y="439.19" width="7.55" height="8.21" fill="#d3e4f0"/>
<rect x="388.50" y="439.19" width="7.55" height="8.21" fill="#94c4e1"/>
<text x="0" y="0" transform="translate(398.75,47.18) scale(1.0,1.1)" font-family="Liberation Sans, sans-serif" font-size="7.9" fill="#161616">Peroxiredoxin-6</text>
<text x="0" y="0" transform="translate(398.75,55.33) scale(1.0,1.1)" font-family="Liberation Sans, sans-serif" font-size="7.9" fill="#161616">Methanethiol oxidase</text>
<text x="0" y="0" transform="translate(398.75,63.49) scale(1.0,1.1)" font-family="Liberation Sans, sans-serif" font-size="7.9" fill="#161616">Alpha-1-antitrypsin 1−2</text>
<text x="0" y="0" transform="translate(398.75,71.64) scale(1.0,1.1)" font-family="Liberation Sans, sans-serif" font-size="7.9" fill="#161616">Alpha-1-antitrypsin 1−3</text>
<text x="0" y="0" transform="translate(398.75,79.80) scale(1.0,1.1)" font-family="Liberation Sans, sans-serif" font-size="7.9" fill="#161616">Serotransferrin</text>
<text x="0" y="0" transform="translate(398.75,87.95) scale(1.0,1.1)" font-family="Liberation Sans, sans-serif" font-size="7.9" fill="#161616">Parkinson disease pr.7</text>
<text x="0" y="0" transform="translate(398.75,96.11) scale(1.0,1.1)" font-family="Liberation Sans, sans-serif" font-size="7.9" fill="#161616">GTP-binding nuclear Ran</text>
<text x="0" y="0" transform="translate(398.75,104.26) scale(1.0,1.1)" font-family="Liberation Sans, sans-serif" font-size="7.9" fill="#161616">Secernin-3</text>
<text x="0" y="0" transform="translate(398.75,112.42) scale(1.0,1.1)" font-family="Liberation Sans, sans-serif" font-size="7.9" fill="#161616">Proteasome subunit b1</text>
<text x="0" y="0" transform="translate(398.75,120.57) scale(1.0,1.1)" font-family="Liberation Sans, sans-serif" font-size="7.9" fill="#161616">Ras-related protein Rap 1b</text>
<text x="0" y="0" transform="translate(398.75,128.73) scale(1.0,1.1)" font-family="Liberation Sans, sans-serif" font-size="7.9" fill="#161616">Phosphoglucomutase</text>
<text x="0" y="0" transform="translate(398.75,136.88) scale(1.0,1.1)" font-family="Liberation Sans, sans-serif" font-size="7.9" fill="#161616">Tetrahydrofolalate synthase</text>
<text x="0" y="0" transform="translate(398.75,145.04) scale(1.0,1.1)" font-family="Liberation Sans, sans-serif" font-size="7.9" fill="#161616">Leukotriene A4 hydrolase</text>
<text x="0" y="0" transform="translate(398.75,153.19) scale(1.0,1.1)" font-family="Liberation Sans, sans-serif" font-size="7.9" fill="#161616">Bleomycin hydrolase</text>
<text x="0" y="0" transform="translate(398.75,161.35) scale(1.0,1.1)" font-family="Liberation Sans, sans-serif" font-size="7.9" fill="#161616">Glutamate–cysteine ligase</text>
<text x="0" y="0" transform="translate(398.75,169.50) scale(1.0,1.1)" font-family="Liberation Sans, sans-serif" font-size="7.9" fill="#161616">L-lactate dehydrogenase</text>
<text x="0" y="0" transform="translate(398.75,177.66) scale(1.0,1.1)" font-family="Liberation Sans, sans-serif" font-size="7.9" fill="#161616">Catalase</text>
<text x="0" y="0" transform="translate(398.75,185.81) scale(1.0,1.1)" font-family="Liberation Sans, sans-serif" font-size="7.9" fill="#161616">Bisphosphoglycerate mutase</text>
<text x="0" y="0" transform="translate(398.75,193.97) scale(1.0,1.1)" font-family="Liberation Sans, sans-serif" font-size="7.9" fill="#161616">Hemoglobin subunit alpha</text>
<text x="0" y="0" transform="translate(398.75,202.12) scale(1.0,1.1)" font-family="Liberation Sans, sans-serif" font-size="7.9" fill="#161616">Dematin</text>
<text x="0" y="0" transform="translate(398.75,210.28) scale(1.0,1.1)" font-family="Liberation Sans, sans-serif" font-size="7.9" fill="#161616">Pyruvate kinase PKLR</text>
<text x="0" y="0" transform="translate(398.75,218.43) scale(1.0,1.1)" font-family="Liberation Sans, sans-serif" font-size="7.9" fill="#161616">SEC14-like protein</text>
<text x="0" y="0" transform="translate(398.75,226.59) scale(1.0,1.1)" font-family="Liberation Sans, sans-serif" font-size="7.9" fill="#161616">Tropomyosin alpha</text>
<text x="0" y="0" transform="translate(398.75,234.74) scale(1.0,1.1)" font-family="Liberation Sans, sans-serif" font-size="7.9" fill="#161616">Eukaryotic translation factor 5</text>
<text x="0" y="0" transform="translate(398.75,242.90) scale(1.0,1.1)" font-family="Liberation Sans, sans-serif" font-size="7.9" fill="#161616">Glutathione S-transferase</text>
<text x="0" y="0" transform="translate(398.75,251.05) scale(1.0,1.1)" font-family="Liberation Sans, sans-serif" font-size="7.9" fill="#161616">Myosin-9</text>
<text x="0" y="0" transform="translate(398.75,259.21) scale(1.0,1.1)" font-family="Liberation Sans, sans-serif" font-size="7.9" fill="#161616">Integrin alpha-IIb</text>
<text x="0" y="0" transform="translate(398.75,267.36) scale(1.0,1.1)" font-family="Liberation Sans, sans-serif" font-size="7.9" fill="#161616">Apolipoprotein E</text>
<text x="0" y="0" transform="translate(398.75,275.52) scale(1.0,1.1)" font-family="Liberation Sans, sans-serif" font-size="7.9" fill="#161616">Transaldolase</text>
<text x="0" y="0" transform="translate(398.75,283.67) scale(1.0,1.1)" font-family="Liberation Sans, sans-serif" font-size="7.9" fill="#161616">Malate dehydrogenase</text>
<text x="0" y="0" transform="translate(398.75,291.83) scale(1.0,1.1)" font-family="Liberation Sans, sans-serif" font-size="7.9" fill="#161616">Ubiquitin-like protein</text>
<text x="0" y="0" transform="translate(398.75,299.98) scale(1.0,1.1)" font-family="Liberation Sans, sans-serif" font-size="7.9" fill="#161616">Proteasome subunit</text>
<text x="0" y="0" transform="translate(398.75,308.14) scale(1.0,1.1)" font-family="Liberation Sans, sans-serif" font-size="7.9" fill="#161616">Gelsolin</text>
<text x="0" y="0" transform="translate(398.75,316.29) scale(1.0,1.1)" font-family="Liberation Sans, sans-serif" font-size="7.9" fill="#161616">Corticosteroid-binding globulin</text>
<text x="0" y="0" transform="translate(398.75,324.45) scale(1.0,1.1)" font-family="Liberation Sans, sans-serif" font-size="7.9" fill="#161616">Beta-adducin</text>
<text x="0" y="0" transform="translate(398.75,332.60) scale(1.0,1.1)" font-family="Liberation Sans, sans-serif" font-size="7.9" fill="#161616">Serine protease inhibitor A3K</text>
<text x="0" y="0" transform="translate(398.75,340.76) scale(1.0,1.1)" font-family="Liberation Sans, sans-serif" font-size="7.9" fill="#161616">Hemoglobin subunit beta</text>
<text x="0" y="0" transform="translate(398.75,348.91) scale(1.0,1.1)" font-family="Liberation Sans, sans-serif" font-size="7.9" fill="#161616">Alpha-adducin</text>
<text x="0" y="0" transform="translate(398.75,357.07) scale(1.0,1.1)" font-family="Liberation Sans, sans-serif" font-size="7.9" fill="#161616">peroxiredoxin-2</text>
<text x="0" y="0" transform="translate(398.75,365.22) scale(1.0,1.1)" font-family="Liberation Sans, sans-serif" font-size="7.9" fill="#161616">F-actin-capping protein</text>
<text x="0" y="0" transform="translate(398.75,373.38) scale(1.0,1.1)" font-family="Liberation Sans, sans-serif" font-size="7.9" fill="#161616">Spectrin beta chain</text>
<text x="0" y="0" transform="translate(398.75,381.53) scale(1.0,1.1)" font-family="Liberation Sans, sans-serif" font-size="7.9" fill="#161616">Protein 4.1</text>
<text x="0" y="0" transform="translate(398.75,389.69) scale(1.0,1.1)" font-family="Liberation Sans, sans-serif" font-size="7.9" fill="#161616">Transitional endopeptidase</text>
<text x="0" y="0" transform="translate(398.75,397.84) scale(1.0,1.1)" font-family="Liberation Sans, sans-serif" font-size="7.9" fill="#161616">Complement factor B</text>
<text x="0" y="0" transform="translate(398.75,406.00) scale(1.0,1.1)" font-family="Liberation Sans, sans-serif" font-size="7.9" fill="#161616">Complement C3</text>
<text x="0" y="0" transform="translate(398.75,414.15) scale(1.0,1.1)" font-family="Liberation Sans, sans-serif" font-size="7.9" fill="#161616">Pregnancy zone protein</text>
<text x="0" y="0" transform="translate(398.75,422.31) scale(1.0,1.1)" font-family="Liberation Sans, sans-serif" font-size="7.9" fill="#161616">Ubiquitin-like modifier activating e.</text>
<text x="0" y="0" transform="translate(398.75,430.46) scale(1.0,1.1)" font-family="Liberation Sans, sans-serif" font-size="7.9" fill="#161616">Adenosylhomocysteine hydrolase</text>
<text x="0" y="0" transform="translate(398.75,438.62) scale(1.0,1.1)" font-family="Liberation Sans, sans-serif" font-size="7.9" fill="#161616">Vinculin</text>
<text x="0" y="0" transform="translate(398.75,446.77) scale(1.0,1.1)" font-family="Liberation Sans, sans-serif" font-size="7.9" fill="#161616">Cysteine and glycine-rich protein 1</text>
<line x1="258.20" y1="43.68" x2="261.00" y2="43.68" stroke="#2c2c2c" stroke-width="0.85"/>
<line x1="258.20" y1="51.83" x2="261.00" y2="51.83" stroke="#2c2c2c" stroke-width="0.85"/>
<line x1="258.20" y1="43.68" x2="258.20" y2="51.83" stroke="#2c2c2c" stroke-width="0.85"/>
<line x1="258.20" y1="59.99" x2="261.00" y2="59.99" stroke="#2c2c2c" stroke-width="0.85"/>
<line x1="258.20" y1="68.14" x2="261.00" y2="68.14" stroke="#2c2c2c" stroke-width="0.85"/>
<line x1="258.20" y1="59.99" x2="258.20" y2="68.14" stroke="#2c2c2c" stroke-width="0.85"/>
<line x1="258.00" y1="76.30" x2="261.00" y2="76.30" stroke="#2c2c2c" stroke-width="0.85"/>
<line x1="258.00" y1="84.45" x2="261.00" y2="84.45" stroke="#2c2c2c" stroke-width="0.85"/>
<line x1="258.00" y1="76.30" x2="258.00" y2="84.45" stroke="#2c2c2c" stroke-width="0.85"/>
<line x1="257.30" y1="64.06" x2="258.20" y2="64.06" stroke="#2c2c2c" stroke-width="0.85"/>
<line x1="257.30" y1="80.38" x2="258.00" y2="80.38" stroke="#2c2c2c" stroke-width="0.85"/>
<line x1="257.30" y1="64.06" x2="257.30" y2="80.38" stroke="#2c2c2c" stroke-width="0.85"/>
<line x1="256.90" y1="92.61" x2="261.00" y2="92.61" stroke="#2c2c2c" stroke-width="0.85"/>
<line x1="256.90" y1="100.76" x2="261.00" y2="100.76" stroke="#2c2c2c" stroke-width="0.85"/>
<line x1="256.90" y1="92.61" x2="256.90" y2="100.76" stroke="#2c2c2c" stroke-width="0.85"/>
<line x1="256.20" y1="72.22" x2="257.30" y2="72.22" stroke="#2c2c2c" stroke-width="0.85"/>
<line x1="256.20" y1="96.68" x2="256.90" y2="96.68" stroke="#2c2c2c" stroke-width="0.85"/>
<line x1="256.20" y1="72.22" x2="256.20" y2="96.68" stroke="#2c2c2c" stroke-width="0.85"/>
<line x1="255.60" y1="47.75" x2="258.20" y2="47.75" stroke="#2c2c2c" stroke-width="0.85"/>
<line x1="255.60" y1="84.45" x2="256.20" y2="84.45" stroke="#2c2c2c" stroke-width="0.85"/>
<line x1="255.60" y1="47.75" x2="255.60" y2="84.45" stroke="#2c2c2c" stroke-width="0.85"/>
<line x1="257.00" y1="108.92" x2="261.00" y2="108.92" stroke="#2c2c2c" stroke-width="0.85"/>
<line x1="257.00" y1="117.07" x2="261.00" y2="117.07" stroke="#2c2c2c" stroke-width="0.85"/>
<line x1="257.00" y1="108.92" x2="257.00" y2="117.07" stroke="#2c2c2c" stroke-width="0.85"/>
<line x1="258.00" y1="125.23" x2="261.00" y2="125.23" stroke="#2c2c2c" stroke-width="0.85"/>
<line x1="258.00" y1="133.38" x2="261.00" y2="133.38" stroke="#2c2c2c" stroke-width="0.85"/>
<line x1="258.00" y1="125.23" x2="258.00" y2="133.38" stroke="#2c2c2c" stroke-width="0.85"/>
<line x1="255.30" y1="129.31" x2="258.00" y2="129.31" stroke="#2c2c2c" stroke-width="0.85"/>
<line x1="255.30" y1="141.54" x2="261.00" y2="141.54" stroke="#2c2c2c" stroke-width="0.85"/>
<line x1="255.30" y1="129.31" x2="255.30" y2="141.54" stroke="#2c2c2c" stroke-width="0.85"/>
<line x1="254.30" y1="112.99" x2="257.00" y2="112.99" stroke="#2c2c2c" stroke-width="0.85"/>
<line x1="254.30" y1="135.42" x2="255.30" y2="135.42" stroke="#2c2c2c" stroke-width="0.85"/>
<line x1="254.30" y1="112.99" x2="254.30" y2="135.42" stroke="#2c2c2c" stroke-width="0.85"/>
<line x1="256.20" y1="149.69" x2="261.00" y2="149.69" stroke="#2c2c2c" stroke-width="0.85"/>
<line x1="256.20" y1="157.85" x2="261.00" y2="157.85" stroke="#2c2c2c" stroke-width="0.85"/>
<line x1="256.20" y1="149.69" x2="256.20" y2="157.85" stroke="#2c2c2c" stroke-width="0.85"/>
<line x1="257.50" y1="166.00" x2="261.00" y2="166.00" stroke="#2c2c2c" stroke-width="0.85"/>
<line x1="257.50" y1="174.16" x2="261.00" y2="174.16" stroke="#2c2c2c" stroke-width="0.85"/>
<line x1="257.50" y1="166.00" x2="257.50" y2="174.16" stroke="#2c2c2c" stroke-width="0.85"/>
<line x1="256.50" y1="170.08" x2="257.50" y2="170.08" stroke="#2c2c2c" stroke-width="0.85"/>
<line x1="256.50" y1="182.31" x2="261.00" y2="182.31" stroke="#2c2c2c" stroke-width="0.85"/>
<line x1="256.50" y1="170.08" x2="256.50" y2="182.31" stroke="#2c2c2c" stroke-width="0.85"/>
<line x1="257.50" y1="190.47" x2="261.00" y2="190.47" stroke="#2c2c2c" stroke-width="0.85"/>
<line x1="257.50" y1="198.62" x2="261.00" y2="198.62" stroke="#2c2c2c" stroke-width="0.85"/>
<line x1="257.50" y1="190.47" x2="257.50" y2="198.62" stroke="#2c2c2c" stroke-width="0.85"/>
<line x1="256.20" y1="206.78" x2="261.00" y2="206.78" stroke="#2c2c2c" stroke-width="0.85"/>
<line x1="256.20" y1="214.93" x2="261.00" y2="214.93" stroke="#2c2c2c" stroke-width="0.85"/>
<line x1="256.20" y1="206.78" x2="256.20" y2="214.93" stroke="#2c2c2c" stroke-width="0.85"/>
<line x1="255.50" y1="194.54" x2="257.50" y2="194.54" stroke="#2c2c2c" stroke-width="0.85"/>
<line x1="255.50" y1="210.85" x2="256.20" y2="210.85" stroke="#2c2c2c" stroke-width="0.85"/>
<line x1="255.50" y1="194.54" x2="255.50" y2="210.85" stroke="#2c2c2c" stroke-width="0.85"/>
<line x1="254.50" y1="176.20" x2="256.50" y2="176.20" stroke="#2c2c2c" stroke-width="0.85"/>
<line x1="254.50" y1="202.70" x2="255.50" y2="202.70" stroke="#2c2c2c" stroke-width="0.85"/>
<line x1="254.50" y1="176.20" x2="254.50" y2="202.70" stroke="#2c2c2c" stroke-width="0.85"/>
<line x1="253.60" y1="153.77" x2="256.20" y2="153.77" stroke="#2c2c2c" stroke-width="0.85"/>
<line x1="253.60" y1="189.45" x2="254.50" y2="189.45" stroke="#2c2c2c" stroke-width="0.85"/>
<line x1="253.60" y1="153.77" x2="253.60" y2="189.45" stroke="#2c2c2c" stroke-width="0.85"/>
<line x1="251.40" y1="124.21" x2="254.30" y2="124.21" stroke="#2c2c2c" stroke-width="0.85"/>
<line x1="251.40" y1="171.61" x2="253.60" y2="171.61" stroke="#2c2c2c" stroke-width="0.85"/>
<line x1="251.40" y1="124.21" x2="251.40" y2="171.61" stroke="#2c2c2c" stroke-width="0.85"/>
<line x1="248.50" y1="66.10" x2="255.60" y2="66.10" stroke="#2c2c2c" stroke-width="0.85"/>
<line x1="248.50" y1="147.91" x2="251.40" y2="147.91" stroke="#2c2c2c" stroke-width="0.85"/>
<line x1="248.50" y1="66.10" x2="248.50" y2="147.91" stroke="#2c2c2c" stroke-width="0.85"/>
<line x1="256.90" y1="223.09" x2="261.00" y2="223.09" stroke="#2c2c2c" stroke-width="0.85"/>
<line x1="256.90" y1="231.24" x2="261.00" y2="231.24" stroke="#2c2c2c" stroke-width="0.85"/>
<line x1="256.90" y1="223.09" x2="256.90" y2="231.24" stroke="#2c2c2c" stroke-width="0.85"/>
<line x1="257.00" y1="239.40" x2="261.00" y2="239.40" stroke="#2c2c2c" stroke-width="0.85"/>
<line x1="257.00" y1="247.55" x2="261.00" y2="247.55" stroke="#2c2c2c" stroke-width="0.85"/>
<line x1="257.00" y1="239.40" x2="257.00" y2="247.55" stroke="#2c2c2c" stroke-width="0.85"/>
<line x1="256.20" y1="243.47" x2="257.00" y2="243.47" stroke="#2c2c2c" stroke-width="0.85"/>
<line x1="256.20" y1="255.71" x2="261.00" y2="255.71" stroke="#2c2c2c" stroke-width="0.85"/>
<line x1="256.20" y1="243.47" x2="256.20" y2="255.71" stroke="#2c2c2c" stroke-width="0.85"/>
<line x1="255.60" y1="227.16" x2="256.90" y2="227.16" stroke="#2c2c2c" stroke-width="0.85"/>
<line x1="255.60" y1="249.59" x2="256.20" y2="249.59" stroke="#2c2c2c" stroke-width="0.85"/>
<line x1="255.60" y1="227.16" x2="255.60" y2="249.59" stroke="#2c2c2c" stroke-width="0.85"/>
<line x1="257.50" y1="263.86" x2="261.00" y2="263.86" stroke="#2c2c2c" stroke-width="0.85"/>
<line x1="257.50" y1="272.02" x2="261.00" y2="272.02" stroke="#2c2c2c" stroke-width="0.85"/>
<line x1="257.50" y1="263.86" x2="257.50" y2="272.02" stroke="#2c2c2c" stroke-width="0.85"/>
<line x1="257.00" y1="280.17" x2="261.00" y2="280.17" stroke="#2c2c2c" stroke-width="0.85"/>
<line x1="257.00" y1="288.33" x2="261.00" y2="288.33" stroke="#2c2c2c" stroke-width="0.85"/>
<line x1="257.00" y1="280.17" x2="257.00" y2="288.33" stroke="#2c2c2c" stroke-width="0.85"/>
<line x1="255.60" y1="267.94" x2="257.50" y2="267.94" stroke="#2c2c2c" stroke-width="0.85"/>
<line x1="255.60" y1="284.25" x2="257.00" y2="284.25" stroke="#2c2c2c" stroke-width="0.85"/>
<line x1="255.60" y1="267.94" x2="255.60" y2="284.25" stroke="#2c2c2c" stroke-width="0.85"/>
<line x1="257.50" y1="296.48" x2="261.00" y2="296.48" stroke="#2c2c2c" stroke-width="0.85"/>
<line x1="257.50" y1="304.64" x2="261.00" y2="304.64" stroke="#2c2c2c" stroke-width="0.85"/>
<line x1="257.50" y1="296.48" x2="257.50" y2="304.64" stroke="#2c2c2c" stroke-width="0.85"/>
<line x1="257.50" y1="312.79" x2="261.00" y2="312.79" stroke="#2c2c2c" stroke-width="0.85"/>
<line x1="257.50" y1="320.95" x2="261.00" y2="320.95" stroke="#2c2c2c" stroke-width="0.85"/>
<line x1="257.50" y1="312.79" x2="257.50" y2="320.95" stroke="#2c2c2c" stroke-width="0.85"/>
<line x1="256.50" y1="300.56" x2="257.50" y2="300.56" stroke="#2c2c2c" stroke-width="0.85"/>
<line x1="256.50" y1="316.87" x2="257.50" y2="316.87" stroke="#2c2c2c" stroke-width="0.85"/>
<line x1="256.50" y1="300.56" x2="256.50" y2="316.87" stroke="#2c2c2c" stroke-width="0.85"/>
<line x1="257.50" y1="329.10" x2="261.00" y2="329.10" stroke="#2c2c2c" stroke-width="0.85"/>
<line x1="257.50" y1="337.26" x2="261.00" y2="337.26" stroke="#2c2c2c" stroke-width="0.85"/>
<line x1="257.50" y1="329.10" x2="257.50" y2="337.26" stroke="#2c2c2c" stroke-width="0.85"/>
<line x1="256.80" y1="333.18" x2="257.50" y2="333.18" stroke="#2c2c2c" stroke-width="0.85"/>
<line x1="256.80" y1="345.41" x2="261.00" y2="345.41" stroke="#2c2c2c" stroke-width="0.85"/>
<line x1="256.80" y1="333.18" x2="256.80" y2="345.41" stroke="#2c2c2c" stroke-width="0.85"/>
<line x1="255.60" y1="308.72" x2="256.50" y2="308.72" stroke="#2c2c2c" stroke-width="0.85"/>
<line x1="255.60" y1="339.30" x2="256.80" y2="339.30" stroke="#2c2c2c" stroke-width="0.85"/>
<line x1="255.60" y1="308.72" x2="255.60" y2="339.30" stroke="#2c2c2c" stroke-width="0.85"/>
<line x1="257.80" y1="353.57" x2="261.00" y2="353.57" stroke="#2c2c2c" stroke-width="0.85"/>
<line x1="257.80" y1="361.72" x2="261.00" y2="361.72" stroke="#2c2c2c" stroke-width="0.85"/>
<line x1="257.80" y1="353.57" x2="257.80" y2="361.72" stroke="#2c2c2c" stroke-width="0.85"/>
<line x1="258.20" y1="369.88" x2="261.00" y2="369.88" stroke="#2c2c2c" stroke-width="0.85"/>
<line x1="258.20" y1="378.03" x2="261.00" y2="378.03" stroke="#2c2c2c" stroke-width="0.85"/>
<line x1="258.20" y1="369.88" x2="258.20" y2="378.03" stroke="#2c2c2c" stroke-width="0.85"/>
<line x1="256.50" y1="357.64" x2="257.80" y2="357.64" stroke="#2c2c2c" stroke-width="0.85"/>
<line x1="256.50" y1="373.95" x2="258.20" y2="373.95" stroke="#2c2c2c" stroke-width="0.85"/>
<line x1="256.50" y1="357.64" x2="256.50" y2="373.95" stroke="#2c2c2c" stroke-width="0.85"/>
<line x1="258.00" y1="386.19" x2="261.00" y2="386.19" stroke="#2c2c2c" stroke-width="0.85"/>
<line x1="258.00" y1="394.34" x2="261.00" y2="394.34" stroke="#2c2c2c" stroke-width="0.85"/>
<line x1="258.00" y1="386.19" x2="258.00" y2="394.34" stroke="#2c2c2c" stroke-width="0.85"/>
<line x1="257.60" y1="402.50" x2="261.00" y2="402.50" stroke="#2c2c2c" stroke-width="0.85"/>
<line x1="257.60" y1="410.65" x2="261.00" y2="410.65" stroke="#2c2c2c" stroke-width="0.85"/>
<line x1="257.60" y1="418.81" x2="261.00" y2="418.81" stroke="#2c2c2c" stroke-width="0.85"/>
<line x1="257.60" y1="402.50" x2="257.60" y2="418.81" stroke="#2c2c2c" stroke-width="0.85"/>
<line x1="256.50" y1="390.26" x2="258.00" y2="390.26" stroke="#2c2c2c" stroke-width="0.85"/>
<line x1="256.50" y1="410.65" x2="257.60" y2="410.65" stroke="#2c2c2c" stroke-width="0.85"/>
<line x1="256.50" y1="390.26" x2="256.50" y2="410.65" stroke="#2c2c2c" stroke-width="0.85"/>
<line x1="257.30" y1="426.96" x2="261.00" y2="426.96" stroke="#2c2c2c" stroke-width="0.85"/>
<line x1="257.30" y1="435.12" x2="261.00" y2="435.12" stroke="#2c2c2c" stroke-width="0.85"/>
<line x1="257.30" y1="426.96" x2="257.30" y2="435.12" stroke="#2c2c2c" stroke-width="0.85"/>
<line x1="256.60" y1="431.04" x2="257.30" y2="431.04" stroke="#2c2c2c" stroke-width="0.85"/>
<line x1="256.60" y1="443.27" x2="261.00" y2="443.27" stroke="#2c2c2c" stroke-width="0.85"/>
<line x1="256.60" y1="431.04" x2="256.60" y2="443.27" stroke="#2c2c2c" stroke-width="0.85"/>
<line x1="255.60" y1="400.46" x2="256.50" y2="400.46" stroke="#2c2c2c" stroke-width="0.85"/>
<line x1="255.60" y1="437.16" x2="256.60" y2="437.16" stroke="#2c2c2c" stroke-width="0.85"/>
<line x1="255.60" y1="400.46" x2="255.60" y2="437.16" stroke="#2c2c2c" stroke-width="0.85"/>
<line x1="254.90" y1="365.80" x2="256.50" y2="365.80" stroke="#2c2c2c" stroke-width="0.85"/>
<line x1="254.90" y1="418.81" x2="255.60" y2="418.81" stroke="#2c2c2c" stroke-width="0.85"/>
<line x1="254.90" y1="365.80" x2="254.90" y2="418.81" stroke="#2c2c2c" stroke-width="0.85"/>
<line x1="253.60" y1="324.01" x2="255.60" y2="324.01" stroke="#2c2c2c" stroke-width="0.85"/>
<line x1="253.60" y1="392.30" x2="254.90" y2="392.30" stroke="#2c2c2c" stroke-width="0.85"/>
<line x1="253.60" y1="324.01" x2="253.60" y2="392.30" stroke="#2c2c2c" stroke-width="0.85"/>
<line x1="251.00" y1="276.10" x2="255.60" y2="276.10" stroke="#2c2c2c" stroke-width="0.85"/>
<line x1="251.00" y1="358.15" x2="253.60" y2="358.15" stroke="#2c2c2c" stroke-width="0.85"/>
<line x1="251.00" y1="276.10" x2="251.00" y2="358.15" stroke="#2c2c2c" stroke-width="0.85"/>
<line x1="248.40" y1="238.38" x2="255.60" y2="238.38" stroke="#2c2c2c" stroke-width="0.85"/>
<line x1="248.40" y1="317.12" x2="251.00" y2="317.12" stroke="#2c2c2c" stroke-width="0.85"/>
<line x1="248.40" y1="238.38" x2="248.40" y2="317.12" stroke="#2c2c2c" stroke-width="0.85"/>
<line x1="244.50" y1="107.01" x2="248.50" y2="107.01" stroke="#2c2c2c" stroke-width="0.85"/>
<line x1="244.50" y1="277.75" x2="248.40" y2="277.75" stroke="#2c2c2c" stroke-width="0.85"/>
<line x1="244.50" y1="107.01" x2="244.50" y2="277.75" stroke="#2c2c2c" stroke-width="0.85"/>
<rect x="322.7" y="451.2" width="58.1" height="7.6" fill="url(#cb)"/>
<text x="0" y="0" transform="translate(309.40,458.60) scale(1.0,1.1)" font-family="Liberation Sans, sans-serif" font-size="8.4" fill="#111">−2</text>
<text x="0" y="0" transform="translate(383.40,458.60) scale(1.0,1.1)" font-family="Liberation Sans, sans-serif" font-size="8.4" fill="#111">2</text>
<text x="0" y="0" transform="translate(0.20,165.30) scale(1.0,1.0)" font-family="Liberation Sans, sans-serif" font-size="11" fill="#111" font-weight="bold">C</text>
<text x="0" y="0" transform="translate(23.60,181.00) scale(1.0,1.1)" font-family="Liberation Sans, sans-serif" font-size="9.1" fill="#111">WT</text>
<text x="0" y="0" transform="translate(72.60,181.00) scale(1.0,1.1)" font-family="Liberation Sans, sans-serif" font-size="9.56" fill="#111">SphK1 KO</text>
<rect x="0.8" y="185.8" width="61.4" height="8" fill="#184f8c"/>
<rect x="64.5" y="185.8" width="62" height="8" fill="#ca0b2b"/>
<path d="M2.5,204.3 L61.9,195.9 L61.9,204.3 Z" fill="#cfcfd3"/>
<path d="M64.8,204.3 L126.3,195.9 L126.3,204.3 Z" fill="#cfcfd3"/>
<text x="0" y="0" transform="translate(128.60,204.70) scale(1.0,1.1)" font-family="Liberation Sans, sans-serif" font-size="9.45" fill="#111">Storage</text>
<rect x="0.00" y="208.70" width="7.00" height="7.76" fill="#fbd6c3"/>
<rect x="6.95" y="208.70" width="7.00" height="7.76" fill="#2a6cb0"/>
<rect x="13.90" y="208.70" width="7.00" height="7.76" fill="#eeeef1"/>
<rect x="20.85" y="208.70" width="7.00" height="7.76" fill="#94c4e1"/>
<rect x="27.80" y="208.70" width="7.00" height="7.76" fill="#fbd6c3"/>
<rect x="34.75" y="208.70" width="7.00" height="7.76" fill="#d8604e"/>
<rect x="41.70" y="208.70" width="7.00" height="7.76" fill="#fbd6c3"/>
<rect x="48.65" y="208.70" width="7.00" height="7.76" fill="#d3e4f0"/>
<rect x="55.60" y="208.70" width="7.00" height="7.76" fill="#fbd6c3"/>
<rect x="62.55" y="208.70" width="7.00" height="7.76" fill="#4f97c8"/>
<rect x="69.50" y="208.70" width="7.00" height="7.76" fill="#fbd6c3"/>
<rect x="76.45" y="208.70" width="7.00" height="7.76" fill="#fbd6c3"/>
<rect x="83.40" y="208.70" width="7.00" height="7.76" fill="#d8604e"/>
<rect x="90.35" y="208.70" width="7.00" height="7.76" fill="#4f97c8"/>
<rect x="97.30" y="208.70" width="7.00" height="7.76" fill="#f2a684"/>
<rect x="104.25" y="208.70" width="7.00" height="7.76" fill="#94c4e1"/>
<rect x="111.20" y="208.70" width="7.00" height="7.76" fill="#fbd6c3"/>
<rect x="118.15" y="208.70" width="7.00" height="7.76" fill="#fbd6c3"/>
<rect x="0.00" y="216.41" width="7.00" height="7.76" fill="#d3e4f0"/>
<rect x="6.95" y="216.41" width="7.00" height="7.76" fill="#4f97c8"/>
<rect x="13.90" y="216.41" width="7.00" height="7.76" fill="#d8604e"/>
<rect x="20.85" y="216.41" width="7.00" height="7.76" fill="#94c4e1"/>
<rect x="27.80" y="216.41" width="7.00" height="7.76" fill="#d3e4f0"/>
<rect x="34.75" y="216.41" width="7.00" height="7.76" fill="#fbd6c3"/>
<rect x="41.70" y="216.41" width="7.00" height="7.76" fill="#d3e4f0"/>
<rect x="48.65" y="216.41" width="7.00" height="7.76" fill="#d3e4f0"/>
<rect x="55.60" y="216.41" width="7.00" height="7.76" fill="#d8604e"/>
<rect x="62.55" y="216.41" width="7.00" height="7.76" fill="#94c4e1"/>
<rect x="69.50" y="216.41" width="7.00" height="7.76" fill="#94c4e1"/>
<rect x="76.45" y="216.41" width="7.00" height="7.76" fill="#94c4e1"/>
<rect x="83.40" y="216.41" width="7.00" height="7.76" fill="#fbd6c3"/>
<rect x="90.35" y="216.41" width="7.00" height="7.76" fill="#d8604e"/>
<rect x="97.30" y="216.41" width="7.00" height="7.76" fill="#94c4e1"/>
<rect x="104.25" y="216.41" width="7.00" height="7.76" fill="#d3e4f0"/>
<rect x="111.20" y="216.41" width="7.00" height="7.76" fill="#d3e4f0"/>
<rect x="118.15" y="216.41" width="7.00" height="7.76" fill="#d8604e"/>
<rect x="0.00" y="224.12" width="7.00" height="7.76" fill="#d3e4f0"/>
<rect x="6.95" y="224.12" width="7.00" height="7.76" fill="#4f97c8"/>
<rect x="13.90" y="224.12" width="7.00" height="7.76" fill="#eeeef1"/>
<rect x="20.85" y="224.12" width="7.00" height="7.76" fill="#8c0a25"/>
<rect x="27.80" y="224.12" width="7.00" height="7.76" fill="#d3e4f0"/>
<rect x="34.75" y="224.12" width="7.00" height="7.76" fill="#d3e4f0"/>
<rect x="41.70" y="224.12" width="7.00" height="7.76" fill="#f2a684"/>
<rect x="48.65" y="224.12" width="7.00" height="7.76" fill="#f2a684"/>
<rect x="55.60" y="224.12" width="7.00" height="7.76" fill="#d3e4f0"/>
<rect x="62.55" y="224.12" width="7.00" height="7.76" fill="#4f97c8"/>
<rect x="69.50" y="224.12" width="7.00" height="7.76" fill="#f2a684"/>
<rect x="76.45" y="224.12" width="7.00" height="7.76" fill="#eeeef1"/>
<rect x="83.40" y="224.12" width="7.00" height="7.76" fill="#4f97c8"/>
<rect x="90.35" y="224.12" width="7.00" height="7.76" fill="#4f97c8"/>
<rect x="97.30" y="224.12" width="7.00" height="7.76" fill="#d3e4f0"/>
<rect x="104.25" y="224.12" width="7.00" height="7.76" fill="#d3e4f0"/>
<rect x="111.20" y="224.12" width="7.00" height="7.76" fill="#d8604e"/>
<rect x="118.15" y="224.12" width="7.00" height="7.76" fill="#d3e4f0"/>
<rect x="0.00" y="231.83" width="7.00" height="7.76" fill="#94c4e1"/>
<rect x="6.95" y="231.83" width="7.00" height="7.76" fill="#94c4e1"/>
<rect x="13.90" y="231.83" width="7.00" height="7.76" fill="#94c4e1"/>
<rect x="20.85" y="231.83" width="7.00" height="7.76" fill="#fbd6c3"/>
<rect x="27.80" y="231.83" width="7.00" height="7.76" fill="#fbd6c3"/>
<rect x="34.75" y="231.83" width="7.00" height="7.76" fill="#8c0a25"/>
<rect x="41.70" y="231.83" width="7.00" height="7.76" fill="#fbd6c3"/>
<rect x="48.65" y="231.83" width="7.00" height="7.76" fill="#d8604e"/>
<rect x="55.60" y="231.83" width="7.00" height="7.76" fill="#f2a684"/>
<rect x="62.55" y="231.83" width="7.00" height="7.76" fill="#d3e4f0"/>
<rect x="69.50" y="231.83" width="7.00" height="7.76" fill="#94c4e1"/>
<rect x="76.45" y="231.83" width="7.00" height="7.76" fill="#4f97c8"/>
<rect x="83.40" y="231.83" width="7.00" height="7.76" fill="#f2a684"/>
<rect x="90.35" y="231.83" width="7.00" height="7.76" fill="#d3e4f0"/>
<rect x="97.30" y="231.83" width="7.00" height="7.76" fill="#fbd6c3"/>
<rect x="104.25" y="231.83" width="7.00" height="7.76" fill="#fbd6c3"/>
<rect x="111.20" y="231.83" width="7.00" height="7.76" fill="#94c4e1"/>
<rect x="118.15" y="231.83" width="7.00" height="7.76" fill="#fbd6c3"/>
<rect x="0.00" y="239.54" width="7.00" height="7.76" fill="#4f97c8"/>
<rect x="6.95" y="239.54" width="7.00" height="7.76" fill="#2a6cb0"/>
<rect x="13.90" y="239.54" width="7.00" height="7.76" fill="#4f97c8"/>
<rect x="20.85" y="239.54" width="7.00" height="7.76" fill="#f2a684"/>
<rect x="27.80" y="239.54" width="7.00" height="7.76" fill="#f2a684"/>
<rect x="34.75" y="239.54" width="7.00" height="7.76" fill="#fbd6c3"/>
<rect x="41.70" y="239.54" width="7.00" height="7.76" fill="#d3e4f0"/>
<rect x="48.65" y="239.54" width="7.00" height="7.76" fill="#d8604e"/>
<rect x="55.60" y="239.54" width="7.00" height="7.76" fill="#fbd6c3"/>
<rect x="62.55" y="239.54" width="7.00" height="7.76" fill="#d3e4f0"/>
<rect x="69.50" y="239.54" width="7.00" height="7.76" fill="#d3e4f0"/>
<rect x="76.45" y="239.54" width="7.00" height="7.76" fill="#d3e4f0"/>
<rect x="83.40" y="239.54" width="7.00" height="7.76" fill="#fbd6c3"/>
<rect x="90.35" y="239.54" width="7.00" height="7.76" fill="#d8604e"/>
<rect x="97.30" y="239.54" width="7.00" height="7.76" fill="#f2a684"/>
<rect x="104.25" y="239.54" width="7.00" height="7.76" fill="#d3e4f0"/>
<rect x="111.20" y="239.54" width="7.00" height="7.76" fill="#f2a684"/>
<rect x="118.15" y="239.54" width="7.00" height="7.76" fill="#94c4e1"/>
<rect x="0.00" y="247.25" width="7.00" height="7.76" fill="#0f3470"/>
<rect x="6.95" y="247.25" width="7.00" height="7.76" fill="#4f97c8"/>
<rect x="13.90" y="247.25" width="7.00" height="7.76" fill="#d3e4f0"/>
<rect x="20.85" y="247.25" width="7.00" height="7.76" fill="#fbd6c3"/>
<rect x="27.80" y="247.25" width="7.00" height="7.76" fill="#b5202e"/>
<rect x="34.75" y="247.25" width="7.00" height="7.76" fill="#fbd6c3"/>
<rect x="41.70" y="247.25" width="7.00" height="7.76" fill="#fbd6c3"/>
<rect x="48.65" y="247.25" width="7.00" height="7.76" fill="#f2a684"/>
<rect x="55.60" y="247.25" width="7.00" height="7.76" fill="#fbd6c3"/>
<rect x="62.55" y="247.25" width="7.00" height="7.76" fill="#94c4e1"/>
<rect x="69.50" y="247.25" width="7.00" height="7.76" fill="#94c4e1"/>
<rect x="76.45" y="247.25" width="7.00" height="7.76" fill="#94c4e1"/>
<rect x="83.40" y="247.25" width="7.00" height="7.76" fill="#f2a684"/>
<rect x="90.35" y="247.25" width="7.00" height="7.76" fill="#fbd6c3"/>
<rect x="97.30" y="247.25" width="7.00" height="7.76" fill="#fbd6c3"/>
<rect x="104.25" y="247.25" width="7.00" height="7.76" fill="#d3e4f0"/>
<rect x="111.20" y="247.25" width="7.00" height="7.76" fill="#fbd6c3"/>
<rect x="118.15" y="247.25" width="7.00" height="7.76" fill="#fbd6c3"/>
<rect x="0.00" y="254.96" width="7.00" height="7.76" fill="#f2a684"/>
<rect x="6.95" y="254.96" width="7.00" height="7.76" fill="#d3e4f0"/>
<rect x="13.90" y="254.96" width="7.00" height="7.76" fill="#94c4e1"/>
<rect x="20.85" y="254.96" width="7.00" height="7.76" fill="#fbd6c3"/>
<rect x="27.80" y="254.96" width="7.00" height="7.76" fill="#fbd6c3"/>
<rect x="34.75" y="254.96" width="7.00" height="7.76" fill="#94c4e1"/>
<rect x="41.70" y="254.96" width="7.00" height="7.76" fill="#f2a684"/>
<rect x="48.65" y="254.96" width="7.00" height="7.76" fill="#d8604e"/>
<rect x="55.60" y="254.96" width="7.00" height="7.76" fill="#f2a684"/>
<rect x="62.55" y="254.96" width="7.00" height="7.76" fill="#4f97c8"/>
<rect x="69.50" y="254.96" width="7.00" height="7.76" fill="#d3e4f0"/>
<rect x="76.45" y="254.96" width="7.00" height="7.76" fill="#d3e4f0"/>
<rect x="83.40" y="254.96" width="7.00" height="7.76" fill="#f2a684"/>
<rect x="90.35" y="254.96" width="7.00" height="7.76" fill="#b5202e"/>
<rect x="97.30" y="254.96" width="7.00" height="7.76" fill="#fbd6c3"/>
<rect x="104.25" y="254.96" width="7.00" height="7.76" fill="#94c4e1"/>
<rect x="111.20" y="254.96" width="7.00" height="7.76" fill="#4f97c8"/>
<rect x="118.15" y="254.96" width="7.00" height="7.76" fill="#94c4e1"/>
<rect x="0.00" y="262.67" width="7.00" height="7.76" fill="#94c4e1"/>
<rect x="6.95" y="262.67" width="7.00" height="7.76" fill="#fbd6c3"/>
<rect x="13.90" y="262.67" width="7.00" height="7.76" fill="#94c4e1"/>
<rect x="20.85" y="262.67" width="7.00" height="7.76" fill="#fbd6c3"/>
<rect x="27.80" y="262.67" width="7.00" height="7.76" fill="#8c0a25"/>
<rect x="34.75" y="262.67" width="7.00" height="7.76" fill="#fbd6c3"/>
<rect x="41.70" y="262.67" width="7.00" height="7.76" fill="#f2a684"/>
<rect x="48.65" y="262.67" width="7.00" height="7.76" fill="#8c0a25"/>
<rect x="55.60" y="262.67" width="7.00" height="7.76" fill="#fbd6c3"/>
<rect x="62.55" y="262.67" width="7.00" height="7.76" fill="#94c4e1"/>
<rect x="69.50" y="262.67" width="7.00" height="7.76" fill="#94c4e1"/>
<rect x="76.45" y="262.67" width="7.00" height="7.76" fill="#94c4e1"/>
<rect x="83.40" y="262.67" width="7.00" height="7.76" fill="#94c4e1"/>
<rect x="90.35" y="262.67" width="7.00" height="7.76" fill="#94c4e1"/>
<rect x="97.30" y="262.67" width="7.00" height="7.76" fill="#94c4e1"/>
<rect x="104.25" y="262.67" width="7.00" height="7.76" fill="#94c4e1"/>
<rect x="111.20" y="262.67" width="7.00" height="7.76" fill="#94c4e1"/>
<rect x="118.15" y="262.67" width="7.00" height="7.76" fill="#94c4e1"/>
<text x="0" y="0" transform="translate(128.75,216.25) scale(1.0,1.1)" font-family="Liberation Sans, sans-serif" font-size="7.83" fill="#161616">Hemoglobin subunit beta1</text>
<text x="0" y="0" transform="translate(128.75,223.96) scale(1.0,1.1)" font-family="Liberation Sans, sans-serif" font-size="7.83" fill="#161616">Transgelin-2</text>
<text x="0" y="0" transform="translate(128.75,231.67) scale(1.0,1.1)" font-family="Liberation Sans, sans-serif" font-size="7.83" fill="#161616">Carboxypeptidase N</text>
<text x="0" y="0" transform="translate(128.75,239.38) scale(1.0,1.1)" font-family="Liberation Sans, sans-serif" font-size="7.83" fill="#161616">Serotransferrin</text>
<text x="0" y="0" transform="translate(128.75,247.09) scale(1.0,1.1)" font-family="Liberation Sans, sans-serif" font-size="7.83" fill="#161616">Carbonic anhydrase 2</text>
<text x="0" y="0" transform="translate(128.75,254.80) scale(1.0,1.1)" font-family="Liberation Sans, sans-serif" font-size="7.83" fill="#161616">Band 3 anion transporter</text>
<text x="0" y="0" transform="translate(128.75,262.51) scale(1.0,1.1)" font-family="Liberation Sans, sans-serif" font-size="7.83" fill="#161616">Aldehyde dehydrogenase 1A1</text>
<text x="0" y="0" transform="translate(128.75,270.22) scale(1.0,1.1)" font-family="Liberation Sans, sans-serif" font-size="7.83" fill="#161616">Ig gamma-3 chain C</text>
<rect x="34.5" y="276.1" width="54.8" height="7.3" fill="url(#cb)"/>
<text x="0" y="0" transform="translate(22.30,283.00) scale(1.0,1.1)" font-family="Liberation Sans, sans-serif" font-size="8.4" fill="#111">−2</text>
<text x="0" y="0" transform="translate(92.30,283.00) scale(1.0,1.1)" font-family="Liberation Sans, sans-serif" font-size="8.4" fill="#111">2</text>
<text x="0" y="0" transform="translate(37.00,293.40) scale(0.72,1.18)" font-family="Liberation Sans, sans-serif" font-size="8.4" fill="#222" font-weight="bold">Protein Oxidation</text>
<rect x="25" y="300.75" width="6.25" height="5.5" fill="#184f8c"/>
<text x="0" y="0" transform="translate(34.20,305.90) scale(1.0,1.1)" font-family="Liberation Sans, sans-serif" font-size="7.8" fill="#111">WT</text>
<rect x="56.25" y="300.75" width="5.75" height="5.5" fill="#ca0b2b"/>
<text x="0" y="0" transform="translate(64.50,305.90) scale(1.0,1.1)" font-family="Liberation Sans, sans-serif" font-size="7.8" fill="#111">SphK1 KO</text>
</svg></body></html>
